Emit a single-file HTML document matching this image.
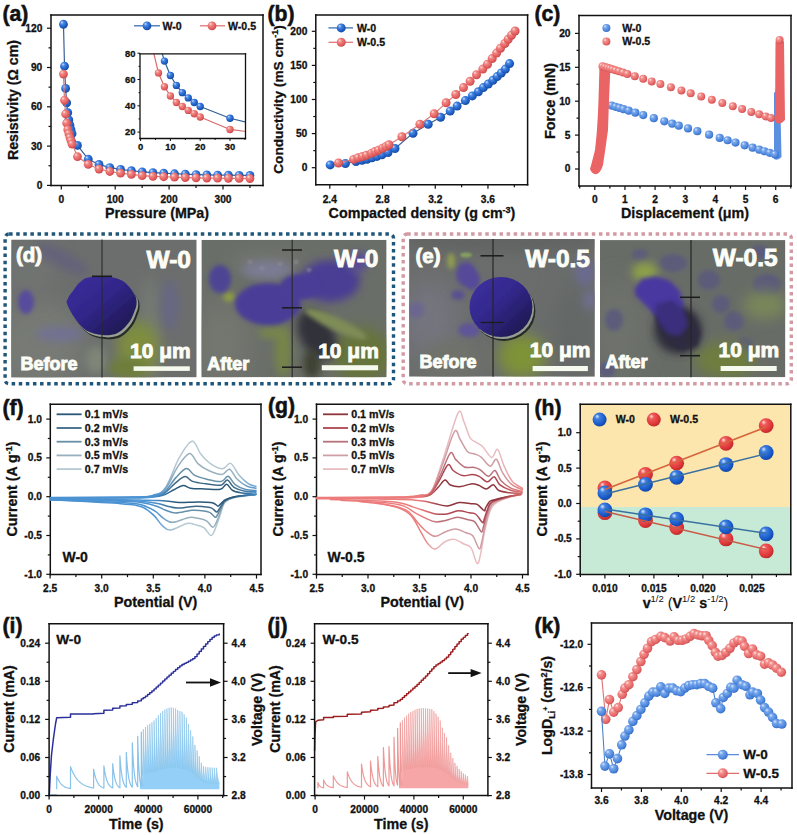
<!DOCTYPE html><html><head><meta charset="utf-8"><style>html,body{margin:0;padding:0;background:#fff;overflow:hidden;}svg{display:block;}</style></head><body><svg width="797" height="835" viewBox="0 0 797 835" font-family='"Liberation Sans", sans-serif'>
<defs>
<radialGradient id="gb" cx="0.4" cy="0.38" r="0.62" fx="0.32" fy="0.28">
 <stop offset="0" stop-color="#cfe4ff"/><stop offset="0.3" stop-color="#4a88e4"/><stop offset="0.75" stop-color="#1e5fc6"/><stop offset="1" stop-color="#184c9e"/></radialGradient>
<radialGradient id="gr" cx="0.4" cy="0.38" r="0.62" fx="0.32" fy="0.28">
 <stop offset="0" stop-color="#ffe2da"/><stop offset="0.3" stop-color="#f08a86"/><stop offset="0.75" stop-color="#e45f60"/><stop offset="1" stop-color="#c94a4c"/></radialGradient>
<radialGradient id="gbl" cx="0.4" cy="0.38" r="0.62" fx="0.32" fy="0.28">
 <stop offset="0" stop-color="#dcebff"/><stop offset="0.3" stop-color="#7aa8ea"/><stop offset="0.75" stop-color="#4d88df"/><stop offset="1" stop-color="#3a70c4"/></radialGradient>
<radialGradient id="grl" cx="0.4" cy="0.38" r="0.62" fx="0.32" fy="0.28">
 <stop offset="0" stop-color="#ffe6e0"/><stop offset="0.3" stop-color="#f29290"/><stop offset="0.75" stop-color="#e86a6a"/><stop offset="1" stop-color="#d05456"/></radialGradient>
</defs>
<rect width="797" height="835" fill="#fff"/>
<line x1="51.00" y1="14.25" x2="51.00" y2="186.25" stroke="#111" stroke-width="1.5" />
<line x1="263.00" y1="14.25" x2="263.00" y2="186.25" stroke="#111" stroke-width="1.5" />
<line x1="50.25" y1="15.00" x2="263.75" y2="15.00" stroke="#111" stroke-width="1.5" />
<line x1="50.25" y1="185.50" x2="263.75" y2="185.50" stroke="#111" stroke-width="1.5" />
<line x1="61.30" y1="185.50" x2="61.30" y2="189.50" stroke="#111" stroke-width="1.2" />
<line x1="115.20" y1="185.50" x2="115.20" y2="189.50" stroke="#111" stroke-width="1.2" />
<line x1="169.10" y1="185.50" x2="169.10" y2="189.50" stroke="#111" stroke-width="1.2" />
<line x1="223.00" y1="185.50" x2="223.00" y2="189.50" stroke="#111" stroke-width="1.2" />
<line x1="88.25" y1="185.50" x2="88.25" y2="188.00" stroke="#111" stroke-width="1.2" />
<line x1="142.15" y1="185.50" x2="142.15" y2="188.00" stroke="#111" stroke-width="1.2" />
<line x1="196.05" y1="185.50" x2="196.05" y2="188.00" stroke="#111" stroke-width="1.2" />
<line x1="249.95" y1="185.50" x2="249.95" y2="188.00" stroke="#111" stroke-width="1.2" />
<line x1="51.00" y1="185.40" x2="47.00" y2="185.40" stroke="#111" stroke-width="1.2" />
<line x1="51.00" y1="146.10" x2="47.00" y2="146.10" stroke="#111" stroke-width="1.2" />
<line x1="51.00" y1="106.80" x2="47.00" y2="106.80" stroke="#111" stroke-width="1.2" />
<line x1="51.00" y1="67.50" x2="47.00" y2="67.50" stroke="#111" stroke-width="1.2" />
<line x1="51.00" y1="28.20" x2="47.00" y2="28.20" stroke="#111" stroke-width="1.2" />
<line x1="51.00" y1="165.75" x2="48.50" y2="165.75" stroke="#111" stroke-width="1.2" />
<line x1="51.00" y1="126.45" x2="48.50" y2="126.45" stroke="#111" stroke-width="1.2" />
<line x1="51.00" y1="87.15" x2="48.50" y2="87.15" stroke="#111" stroke-width="1.2" />
<line x1="51.00" y1="47.85" x2="48.50" y2="47.85" stroke="#111" stroke-width="1.2" />
<text x="61.30" y="202.80" font-size="10.2" text-anchor="middle" font-weight="bold" fill="#111" stroke="#111" stroke-width="0.3">0</text>
<text x="115.20" y="202.80" font-size="10.2" text-anchor="middle" font-weight="bold" fill="#111" stroke="#111" stroke-width="0.3">100</text>
<text x="169.10" y="202.80" font-size="10.2" text-anchor="middle" font-weight="bold" fill="#111" stroke="#111" stroke-width="0.3">200</text>
<text x="223.00" y="202.80" font-size="10.2" text-anchor="middle" font-weight="bold" fill="#111" stroke="#111" stroke-width="0.3">300</text>
<text x="42.30" y="188.80" font-size="10.2" text-anchor="end" font-weight="bold" fill="#111" stroke="#111" stroke-width="0.3">0</text>
<text x="42.30" y="149.50" font-size="10.2" text-anchor="end" font-weight="bold" fill="#111" stroke="#111" stroke-width="0.3">30</text>
<text x="42.30" y="110.20" font-size="10.2" text-anchor="end" font-weight="bold" fill="#111" stroke="#111" stroke-width="0.3">60</text>
<text x="42.30" y="70.90" font-size="10.2" text-anchor="end" font-weight="bold" fill="#111" stroke="#111" stroke-width="0.3">90</text>
<text x="42.30" y="31.60" font-size="10.2" text-anchor="end" font-weight="bold" fill="#111" stroke="#111" stroke-width="0.3">120</text>
<text x="157.00" y="217.50" font-size="14.3" text-anchor="middle" font-weight="bold" fill="#111" stroke="#111" stroke-width="0.3">Pressure (MPa)</text>
<text x="17.50" y="100.00" font-size="14.2" text-anchor="middle" font-weight="bold" fill="#111" transform="rotate(-90 17.50 100.00)" stroke="#111" stroke-width="0.3">Resistivity (Ω cm)</text>
<text x="2.50" y="21.00" font-size="21.2" text-anchor="start" font-weight="bold" fill="#111" stroke="#111" stroke-width="0.55">(a)</text>
<polyline points="63.46,24.27 64.53,66.19 65.61,88.46 66.69,102.87 67.77,112.70 68.85,119.90 69.92,125.14 71.00,129.72 72.08,133.66 77.47,145.44 88.25,159.20 99.03,164.44 109.81,167.58 120.59,169.42 131.37,170.73 142.15,171.78 152.93,172.56 163.71,173.22 174.49,173.74 185.27,174.13 196.05,174.53 206.83,174.79 217.61,175.05 228.39,175.18 239.17,175.31 249.95,175.44" fill="none" stroke="#3d5f93" stroke-width="1.2" stroke-linejoin="round" />
<circle cx="63.46" cy="24.27" r="4.4" fill="url(#gb)"/>
<circle cx="64.53" cy="66.19" r="4.4" fill="url(#gb)"/>
<circle cx="65.61" cy="88.46" r="4.4" fill="url(#gb)"/>
<circle cx="66.69" cy="102.87" r="4.4" fill="url(#gb)"/>
<circle cx="67.77" cy="112.70" r="4.4" fill="url(#gb)"/>
<circle cx="68.85" cy="119.90" r="4.4" fill="url(#gb)"/>
<circle cx="69.92" cy="125.14" r="4.4" fill="url(#gb)"/>
<circle cx="71.00" cy="129.72" r="4.4" fill="url(#gb)"/>
<circle cx="72.08" cy="133.66" r="4.4" fill="url(#gb)"/>
<circle cx="77.47" cy="145.44" r="4.4" fill="url(#gb)"/>
<circle cx="88.25" cy="159.20" r="4.4" fill="url(#gb)"/>
<circle cx="99.03" cy="164.44" r="4.4" fill="url(#gb)"/>
<circle cx="109.81" cy="167.58" r="4.4" fill="url(#gb)"/>
<circle cx="120.59" cy="169.42" r="4.4" fill="url(#gb)"/>
<circle cx="131.37" cy="170.73" r="4.4" fill="url(#gb)"/>
<circle cx="142.15" cy="171.78" r="4.4" fill="url(#gb)"/>
<circle cx="152.93" cy="172.56" r="4.4" fill="url(#gb)"/>
<circle cx="163.71" cy="173.22" r="4.4" fill="url(#gb)"/>
<circle cx="174.49" cy="173.74" r="4.4" fill="url(#gb)"/>
<circle cx="185.27" cy="174.13" r="4.4" fill="url(#gb)"/>
<circle cx="196.05" cy="174.53" r="4.4" fill="url(#gb)"/>
<circle cx="206.83" cy="174.79" r="4.4" fill="url(#gb)"/>
<circle cx="217.61" cy="175.05" r="4.4" fill="url(#gb)"/>
<circle cx="228.39" cy="175.18" r="4.4" fill="url(#gb)"/>
<circle cx="239.17" cy="175.31" r="4.4" fill="url(#gb)"/>
<circle cx="249.95" cy="175.44" r="4.4" fill="url(#gb)"/>
<polyline points="63.46,74.05 64.53,100.25 65.61,114.01 66.69,123.18 67.77,129.72 68.85,133.66 69.92,137.59 71.00,140.86 72.08,144.13 77.47,156.58 88.25,164.44 99.03,169.03 109.81,171.51 120.59,173.22 131.37,174.40 142.15,175.71 152.93,176.36 163.71,176.75 174.49,177.15 185.27,177.54 196.05,177.80 206.83,178.06 217.61,178.19 228.39,178.33 239.17,178.46 249.95,178.59" fill="none" stroke="#d87878" stroke-width="1.2" stroke-linejoin="round" />
<circle cx="63.46" cy="74.05" r="4.4" fill="url(#gr)"/>
<circle cx="64.53" cy="100.25" r="4.4" fill="url(#gr)"/>
<circle cx="65.61" cy="114.01" r="4.4" fill="url(#gr)"/>
<circle cx="66.69" cy="123.18" r="4.4" fill="url(#gr)"/>
<circle cx="67.77" cy="129.72" r="4.4" fill="url(#gr)"/>
<circle cx="68.85" cy="133.66" r="4.4" fill="url(#gr)"/>
<circle cx="69.92" cy="137.59" r="4.4" fill="url(#gr)"/>
<circle cx="71.00" cy="140.86" r="4.4" fill="url(#gr)"/>
<circle cx="72.08" cy="144.13" r="4.4" fill="url(#gr)"/>
<circle cx="77.47" cy="156.58" r="4.4" fill="url(#gr)"/>
<circle cx="88.25" cy="164.44" r="4.4" fill="url(#gr)"/>
<circle cx="99.03" cy="169.03" r="4.4" fill="url(#gr)"/>
<circle cx="109.81" cy="171.51" r="4.4" fill="url(#gr)"/>
<circle cx="120.59" cy="173.22" r="4.4" fill="url(#gr)"/>
<circle cx="131.37" cy="174.40" r="4.4" fill="url(#gr)"/>
<circle cx="142.15" cy="175.71" r="4.4" fill="url(#gr)"/>
<circle cx="152.93" cy="176.36" r="4.4" fill="url(#gr)"/>
<circle cx="163.71" cy="176.75" r="4.4" fill="url(#gr)"/>
<circle cx="174.49" cy="177.15" r="4.4" fill="url(#gr)"/>
<circle cx="185.27" cy="177.54" r="4.4" fill="url(#gr)"/>
<circle cx="196.05" cy="177.80" r="4.4" fill="url(#gr)"/>
<circle cx="206.83" cy="178.06" r="4.4" fill="url(#gr)"/>
<circle cx="217.61" cy="178.19" r="4.4" fill="url(#gr)"/>
<circle cx="228.39" cy="178.33" r="4.4" fill="url(#gr)"/>
<circle cx="239.17" cy="178.46" r="4.4" fill="url(#gr)"/>
<circle cx="249.95" cy="178.59" r="4.4" fill="url(#gr)"/>
<line x1="134.00" y1="25.80" x2="160.00" y2="25.80" stroke="#3d6fb0" stroke-width="1.3" />
<circle cx="147.00" cy="25.80" r="4.4" fill="url(#gb)"/>
<text x="162.50" y="29.60" font-size="10.6" text-anchor="start" font-weight="bold" fill="#111" stroke="#111" stroke-width="0.3">W-0</text>
<line x1="200.00" y1="25.80" x2="225.00" y2="25.80" stroke="#e07878" stroke-width="1.3" />
<circle cx="212.00" cy="25.80" r="4.4" fill="url(#gr)"/>
<text x="228.00" y="29.60" font-size="10.6" text-anchor="start" font-weight="bold" fill="#111" stroke="#111" stroke-width="0.3">W-0.5</text>
<rect x="140" y="53.8" width="105.5" height="84.7" fill="#fff"/>
<clipPath id="cpi"><rect x="140" y="53.8" width="105.5" height="84.7"/></clipPath>
<g clip-path="url(#cpi)">
<polyline points="162.06,53.20 164.44,61.09 170.40,75.56 176.36,85.42 182.32,92.65 188.28,97.91 194.24,102.51 200.20,106.46 230.00,118.29 246.39,122.11" fill="none" stroke="#2f5f9a" stroke-width="1.2" stroke-linejoin="round" />
<polyline points="153.71,53.20 158.48,72.92 164.44,86.73 170.40,95.94 176.36,102.51 182.32,106.46 188.28,110.40 194.24,113.69 200.20,116.98 230.00,129.47 246.39,131.57" fill="none" stroke="#d86a6a" stroke-width="1.2" stroke-linejoin="round" />
<circle cx="164.44" cy="61.09" r="3.7" fill="url(#gb)"/>
<circle cx="170.40" cy="75.56" r="3.7" fill="url(#gb)"/>
<circle cx="176.36" cy="85.42" r="3.7" fill="url(#gb)"/>
<circle cx="182.32" cy="92.65" r="3.7" fill="url(#gb)"/>
<circle cx="188.28" cy="97.91" r="3.7" fill="url(#gb)"/>
<circle cx="194.24" cy="102.51" r="3.7" fill="url(#gb)"/>
<circle cx="200.20" cy="106.46" r="3.7" fill="url(#gb)"/>
<circle cx="230.00" cy="118.29" r="3.7" fill="url(#gb)"/>
<circle cx="158.48" cy="72.92" r="3.7" fill="url(#gr)"/>
<circle cx="164.44" cy="86.73" r="3.7" fill="url(#gr)"/>
<circle cx="170.40" cy="95.94" r="3.7" fill="url(#gr)"/>
<circle cx="176.36" cy="102.51" r="3.7" fill="url(#gr)"/>
<circle cx="182.32" cy="106.46" r="3.7" fill="url(#gr)"/>
<circle cx="188.28" cy="110.40" r="3.7" fill="url(#gr)"/>
<circle cx="194.24" cy="113.69" r="3.7" fill="url(#gr)"/>
<circle cx="200.20" cy="116.98" r="3.7" fill="url(#gr)"/>
<circle cx="230.00" cy="129.47" r="3.7" fill="url(#gr)"/>
</g>
<line x1="140.00" y1="53.15" x2="140.00" y2="139.15" stroke="#111" stroke-width="1.3" />
<line x1="245.50" y1="53.15" x2="245.50" y2="139.15" stroke="#111" stroke-width="1.3" />
<line x1="139.35" y1="53.80" x2="246.15" y2="53.80" stroke="#111" stroke-width="1.3" />
<line x1="139.35" y1="138.50" x2="246.15" y2="138.50" stroke="#111" stroke-width="1.3" />
<line x1="140.60" y1="138.50" x2="140.60" y2="141.00" stroke="#111" stroke-width="1" />
<line x1="170.40" y1="138.50" x2="170.40" y2="141.00" stroke="#111" stroke-width="1" />
<line x1="200.20" y1="138.50" x2="200.20" y2="141.00" stroke="#111" stroke-width="1" />
<line x1="230.00" y1="138.50" x2="230.00" y2="141.00" stroke="#111" stroke-width="1" />
<line x1="155.50" y1="138.50" x2="155.50" y2="140.00" stroke="#111" stroke-width="1" />
<line x1="185.30" y1="138.50" x2="185.30" y2="140.00" stroke="#111" stroke-width="1" />
<line x1="215.10" y1="138.50" x2="215.10" y2="140.00" stroke="#111" stroke-width="1" />
<line x1="244.90" y1="138.50" x2="244.90" y2="140.00" stroke="#111" stroke-width="1" />
<line x1="140.00" y1="132.10" x2="137.50" y2="132.10" stroke="#111" stroke-width="1" />
<line x1="140.00" y1="105.80" x2="137.50" y2="105.80" stroke="#111" stroke-width="1" />
<line x1="140.00" y1="79.50" x2="137.50" y2="79.50" stroke="#111" stroke-width="1" />
<line x1="140.00" y1="53.20" x2="137.50" y2="53.20" stroke="#111" stroke-width="1" />
<line x1="140.00" y1="118.95" x2="138.50" y2="118.95" stroke="#111" stroke-width="1" />
<line x1="140.00" y1="92.65" x2="138.50" y2="92.65" stroke="#111" stroke-width="1" />
<line x1="140.00" y1="66.35" x2="138.50" y2="66.35" stroke="#111" stroke-width="1" />
<text x="140.60" y="149.50" font-size="9.4" text-anchor="middle" font-weight="bold" fill="#111" stroke="#111" stroke-width="0.3">0</text>
<text x="170.40" y="149.50" font-size="9.4" text-anchor="middle" font-weight="bold" fill="#111" stroke="#111" stroke-width="0.3">10</text>
<text x="200.20" y="149.50" font-size="9.4" text-anchor="middle" font-weight="bold" fill="#111" stroke="#111" stroke-width="0.3">20</text>
<text x="230.00" y="149.50" font-size="9.4" text-anchor="middle" font-weight="bold" fill="#111" stroke="#111" stroke-width="0.3">30</text>
<text x="135.50" y="135.40" font-size="9.4" text-anchor="end" font-weight="bold" fill="#111" stroke="#111" stroke-width="0.3">20</text>
<text x="135.50" y="109.10" font-size="9.4" text-anchor="end" font-weight="bold" fill="#111" stroke="#111" stroke-width="0.3">40</text>
<text x="135.50" y="82.80" font-size="9.4" text-anchor="end" font-weight="bold" fill="#111" stroke="#111" stroke-width="0.3">60</text>
<text x="135.50" y="56.50" font-size="9.4" text-anchor="end" font-weight="bold" fill="#111" stroke="#111" stroke-width="0.3">80</text>
<line x1="315.80" y1="14.15" x2="315.80" y2="185.55" stroke="#111" stroke-width="1.5" />
<line x1="527.60" y1="14.15" x2="527.60" y2="185.55" stroke="#111" stroke-width="1.5" />
<line x1="315.05" y1="14.90" x2="528.35" y2="14.90" stroke="#111" stroke-width="1.5" />
<line x1="315.05" y1="184.80" x2="528.35" y2="184.80" stroke="#111" stroke-width="1.5" />
<line x1="329.80" y1="184.80" x2="329.80" y2="188.80" stroke="#111" stroke-width="1.2" />
<line x1="382.52" y1="184.80" x2="382.52" y2="188.80" stroke="#111" stroke-width="1.2" />
<line x1="435.24" y1="184.80" x2="435.24" y2="188.80" stroke="#111" stroke-width="1.2" />
<line x1="487.96" y1="184.80" x2="487.96" y2="188.80" stroke="#111" stroke-width="1.2" />
<line x1="356.16" y1="184.80" x2="356.16" y2="187.30" stroke="#111" stroke-width="1.2" />
<line x1="408.88" y1="184.80" x2="408.88" y2="187.30" stroke="#111" stroke-width="1.2" />
<line x1="461.60" y1="184.80" x2="461.60" y2="187.30" stroke="#111" stroke-width="1.2" />
<line x1="514.32" y1="184.80" x2="514.32" y2="187.30" stroke="#111" stroke-width="1.2" />
<line x1="315.80" y1="167.70" x2="311.80" y2="167.70" stroke="#111" stroke-width="1.2" />
<line x1="315.80" y1="133.60" x2="311.80" y2="133.60" stroke="#111" stroke-width="1.2" />
<line x1="315.80" y1="99.50" x2="311.80" y2="99.50" stroke="#111" stroke-width="1.2" />
<line x1="315.80" y1="65.40" x2="311.80" y2="65.40" stroke="#111" stroke-width="1.2" />
<line x1="315.80" y1="31.30" x2="311.80" y2="31.30" stroke="#111" stroke-width="1.2" />
<line x1="315.80" y1="150.65" x2="313.30" y2="150.65" stroke="#111" stroke-width="1.2" />
<line x1="315.80" y1="116.55" x2="313.30" y2="116.55" stroke="#111" stroke-width="1.2" />
<line x1="315.80" y1="82.45" x2="313.30" y2="82.45" stroke="#111" stroke-width="1.2" />
<line x1="315.80" y1="48.35" x2="313.30" y2="48.35" stroke="#111" stroke-width="1.2" />
<text x="329.80" y="202.50" font-size="10.2" text-anchor="middle" font-weight="bold" fill="#111" stroke="#111" stroke-width="0.3">2.4</text>
<text x="382.52" y="202.50" font-size="10.2" text-anchor="middle" font-weight="bold" fill="#111" stroke="#111" stroke-width="0.3">2.8</text>
<text x="435.24" y="202.50" font-size="10.2" text-anchor="middle" font-weight="bold" fill="#111" stroke="#111" stroke-width="0.3">3.2</text>
<text x="487.96" y="202.50" font-size="10.2" text-anchor="middle" font-weight="bold" fill="#111" stroke="#111" stroke-width="0.3">3.6</text>
<text x="307.30" y="171.10" font-size="10.2" text-anchor="end" font-weight="bold" fill="#111" stroke="#111" stroke-width="0.3">0</text>
<text x="307.30" y="137.00" font-size="10.2" text-anchor="end" font-weight="bold" fill="#111" stroke="#111" stroke-width="0.3">50</text>
<text x="307.30" y="102.90" font-size="10.2" text-anchor="end" font-weight="bold" fill="#111" stroke="#111" stroke-width="0.3">100</text>
<text x="307.30" y="68.80" font-size="10.2" text-anchor="end" font-weight="bold" fill="#111" stroke="#111" stroke-width="0.3">150</text>
<text x="307.30" y="34.70" font-size="10.2" text-anchor="end" font-weight="bold" fill="#111" stroke="#111" stroke-width="0.3">200</text>
<text x="422.00" y="217.50" font-size="14.3" text-anchor="middle" font-weight="bold" fill="#111" stroke="#111" stroke-width="0.3">Compacted density (g cm<tspan dy="-5" font-size="9">-3</tspan><tspan dy="5">)</tspan></text>
<text x="282.50" y="99.50" font-size="13.7" text-anchor="middle" font-weight="bold" fill="#111" transform="rotate(-90 282.50 99.50)" stroke="#111" stroke-width="0.3">Conductivity (mS cm<tspan dy="-5" font-size="9">-1</tspan><tspan dy="5">)</tspan></text>
<text x="267.50" y="21.00" font-size="21.2" text-anchor="start" font-weight="bold" fill="#111" stroke="#111" stroke-width="0.55">(b)</text>
<polyline points="330.20,164.90 345.40,163.50 356.00,161.50 362.00,160.30 367.00,159.20 372.00,157.80 377.00,156.40 382.00,154.80 388.00,152.50 395.00,148.50 413.00,133.20 428.20,124.30 440.60,117.20 450.20,111.10 457.10,106.10 465.40,100.60 472.30,95.90 478.40,91.80 483.40,87.60 488.30,84.00 493.00,80.20 497.20,76.60 501.30,73.00 505.40,69.10 509.60,63.60" fill="none" stroke="#3d5f93" stroke-width="1.1" stroke-linejoin="round" />
<circle cx="330.20" cy="164.90" r="4.5" fill="url(#gb)"/>
<circle cx="345.40" cy="163.50" r="4.5" fill="url(#gb)"/>
<circle cx="356.00" cy="161.50" r="4.5" fill="url(#gb)"/>
<circle cx="362.00" cy="160.30" r="4.5" fill="url(#gb)"/>
<circle cx="367.00" cy="159.20" r="4.5" fill="url(#gb)"/>
<circle cx="372.00" cy="157.80" r="4.5" fill="url(#gb)"/>
<circle cx="377.00" cy="156.40" r="4.5" fill="url(#gb)"/>
<circle cx="382.00" cy="154.80" r="4.5" fill="url(#gb)"/>
<circle cx="388.00" cy="152.50" r="4.5" fill="url(#gb)"/>
<circle cx="395.00" cy="148.50" r="4.5" fill="url(#gb)"/>
<circle cx="413.00" cy="133.20" r="4.5" fill="url(#gb)"/>
<circle cx="428.20" cy="124.30" r="4.5" fill="url(#gb)"/>
<circle cx="440.60" cy="117.20" r="4.5" fill="url(#gb)"/>
<circle cx="450.20" cy="111.10" r="4.5" fill="url(#gb)"/>
<circle cx="457.10" cy="106.10" r="4.5" fill="url(#gb)"/>
<circle cx="465.40" cy="100.60" r="4.5" fill="url(#gb)"/>
<circle cx="472.30" cy="95.90" r="4.5" fill="url(#gb)"/>
<circle cx="478.40" cy="91.80" r="4.5" fill="url(#gb)"/>
<circle cx="483.40" cy="87.60" r="4.5" fill="url(#gb)"/>
<circle cx="488.30" cy="84.00" r="4.5" fill="url(#gb)"/>
<circle cx="493.00" cy="80.20" r="4.5" fill="url(#gb)"/>
<circle cx="497.20" cy="76.60" r="4.5" fill="url(#gb)"/>
<circle cx="501.30" cy="73.00" r="4.5" fill="url(#gb)"/>
<circle cx="505.40" cy="69.10" r="4.5" fill="url(#gb)"/>
<circle cx="509.60" cy="63.60" r="4.5" fill="url(#gb)"/>
<polyline points="338.50,163.00 353.60,159.40 358.00,157.80 362.50,156.60 366.50,155.20 371.60,153.20 375.00,151.60 378.50,150.20 382.60,148.30 386.00,146.60 389.00,144.80 401.90,136.80 419.90,124.30 434.20,113.80 446.10,102.80 455.80,94.50 463.50,87.60 470.10,81.30 476.50,74.70 482.80,69.10 487.50,64.20 492.20,58.60 496.60,53.10 500.50,48.20 504.90,43.50 508.20,39.30 511.50,35.20 515.10,31.00" fill="none" stroke="#d87878" stroke-width="1.1" stroke-linejoin="round" />
<circle cx="338.50" cy="163.00" r="4.5" fill="url(#gr)"/>
<circle cx="353.60" cy="159.40" r="4.5" fill="url(#gr)"/>
<circle cx="358.00" cy="157.80" r="4.5" fill="url(#gr)"/>
<circle cx="362.50" cy="156.60" r="4.5" fill="url(#gr)"/>
<circle cx="366.50" cy="155.20" r="4.5" fill="url(#gr)"/>
<circle cx="371.60" cy="153.20" r="4.5" fill="url(#gr)"/>
<circle cx="375.00" cy="151.60" r="4.5" fill="url(#gr)"/>
<circle cx="378.50" cy="150.20" r="4.5" fill="url(#gr)"/>
<circle cx="382.60" cy="148.30" r="4.5" fill="url(#gr)"/>
<circle cx="386.00" cy="146.60" r="4.5" fill="url(#gr)"/>
<circle cx="389.00" cy="144.80" r="4.5" fill="url(#gr)"/>
<circle cx="401.90" cy="136.80" r="4.5" fill="url(#gr)"/>
<circle cx="419.90" cy="124.30" r="4.5" fill="url(#gr)"/>
<circle cx="434.20" cy="113.80" r="4.5" fill="url(#gr)"/>
<circle cx="446.10" cy="102.80" r="4.5" fill="url(#gr)"/>
<circle cx="455.80" cy="94.50" r="4.5" fill="url(#gr)"/>
<circle cx="463.50" cy="87.60" r="4.5" fill="url(#gr)"/>
<circle cx="470.10" cy="81.30" r="4.5" fill="url(#gr)"/>
<circle cx="476.50" cy="74.70" r="4.5" fill="url(#gr)"/>
<circle cx="482.80" cy="69.10" r="4.5" fill="url(#gr)"/>
<circle cx="487.50" cy="64.20" r="4.5" fill="url(#gr)"/>
<circle cx="492.20" cy="58.60" r="4.5" fill="url(#gr)"/>
<circle cx="496.60" cy="53.10" r="4.5" fill="url(#gr)"/>
<circle cx="500.50" cy="48.20" r="4.5" fill="url(#gr)"/>
<circle cx="504.90" cy="43.50" r="4.5" fill="url(#gr)"/>
<circle cx="508.20" cy="39.30" r="4.5" fill="url(#gr)"/>
<circle cx="511.50" cy="35.20" r="4.5" fill="url(#gr)"/>
<circle cx="515.10" cy="31.00" r="4.5" fill="url(#gr)"/>
<line x1="328.50" y1="27.90" x2="353.00" y2="27.90" stroke="#3d6fb0" stroke-width="1.3" />
<circle cx="341.20" cy="27.90" r="4.5" fill="url(#gb)"/>
<text x="357.00" y="31.70" font-size="10.6" text-anchor="start" font-weight="bold" fill="#111" stroke="#111" stroke-width="0.3">W-0</text>
<line x1="328.50" y1="42.30" x2="353.00" y2="42.30" stroke="#e07878" stroke-width="1.3" />
<circle cx="341.20" cy="42.30" r="4.5" fill="url(#gr)"/>
<text x="357.00" y="46.10" font-size="10.6" text-anchor="start" font-weight="bold" fill="#111" stroke="#111" stroke-width="0.3">W-0.5</text>
<line x1="579.00" y1="14.75" x2="579.00" y2="186.75" stroke="#111" stroke-width="1.5" />
<line x1="791.00" y1="14.75" x2="791.00" y2="186.75" stroke="#111" stroke-width="1.5" />
<line x1="578.25" y1="15.50" x2="791.75" y2="15.50" stroke="#111" stroke-width="1.5" />
<line x1="578.25" y1="186.00" x2="791.75" y2="186.00" stroke="#111" stroke-width="1.5" />
<line x1="594.80" y1="186.00" x2="594.80" y2="190.00" stroke="#111" stroke-width="1.2" />
<line x1="624.95" y1="186.00" x2="624.95" y2="190.00" stroke="#111" stroke-width="1.2" />
<line x1="655.10" y1="186.00" x2="655.10" y2="190.00" stroke="#111" stroke-width="1.2" />
<line x1="685.25" y1="186.00" x2="685.25" y2="190.00" stroke="#111" stroke-width="1.2" />
<line x1="715.40" y1="186.00" x2="715.40" y2="190.00" stroke="#111" stroke-width="1.2" />
<line x1="745.55" y1="186.00" x2="745.55" y2="190.00" stroke="#111" stroke-width="1.2" />
<line x1="775.70" y1="186.00" x2="775.70" y2="190.00" stroke="#111" stroke-width="1.2" />
<line x1="579.72" y1="186.00" x2="579.72" y2="188.50" stroke="#111" stroke-width="1.2" />
<line x1="609.88" y1="186.00" x2="609.88" y2="188.50" stroke="#111" stroke-width="1.2" />
<line x1="640.02" y1="186.00" x2="640.02" y2="188.50" stroke="#111" stroke-width="1.2" />
<line x1="670.17" y1="186.00" x2="670.17" y2="188.50" stroke="#111" stroke-width="1.2" />
<line x1="700.32" y1="186.00" x2="700.32" y2="188.50" stroke="#111" stroke-width="1.2" />
<line x1="730.47" y1="186.00" x2="730.47" y2="188.50" stroke="#111" stroke-width="1.2" />
<line x1="760.62" y1="186.00" x2="760.62" y2="188.50" stroke="#111" stroke-width="1.2" />
<line x1="790.77" y1="186.00" x2="790.77" y2="188.50" stroke="#111" stroke-width="1.2" />
<line x1="579.00" y1="169.00" x2="575.00" y2="169.00" stroke="#111" stroke-width="1.2" />
<line x1="579.00" y1="135.10" x2="575.00" y2="135.10" stroke="#111" stroke-width="1.2" />
<line x1="579.00" y1="101.20" x2="575.00" y2="101.20" stroke="#111" stroke-width="1.2" />
<line x1="579.00" y1="67.30" x2="575.00" y2="67.30" stroke="#111" stroke-width="1.2" />
<line x1="579.00" y1="33.40" x2="575.00" y2="33.40" stroke="#111" stroke-width="1.2" />
<line x1="579.00" y1="152.05" x2="576.50" y2="152.05" stroke="#111" stroke-width="1.2" />
<line x1="579.00" y1="118.15" x2="576.50" y2="118.15" stroke="#111" stroke-width="1.2" />
<line x1="579.00" y1="84.25" x2="576.50" y2="84.25" stroke="#111" stroke-width="1.2" />
<line x1="579.00" y1="50.35" x2="576.50" y2="50.35" stroke="#111" stroke-width="1.2" />
<text x="594.80" y="202.80" font-size="10.2" text-anchor="middle" font-weight="bold" fill="#111" stroke="#111" stroke-width="0.3">0</text>
<text x="624.95" y="202.80" font-size="10.2" text-anchor="middle" font-weight="bold" fill="#111" stroke="#111" stroke-width="0.3">1</text>
<text x="655.10" y="202.80" font-size="10.2" text-anchor="middle" font-weight="bold" fill="#111" stroke="#111" stroke-width="0.3">2</text>
<text x="685.25" y="202.80" font-size="10.2" text-anchor="middle" font-weight="bold" fill="#111" stroke="#111" stroke-width="0.3">3</text>
<text x="715.40" y="202.80" font-size="10.2" text-anchor="middle" font-weight="bold" fill="#111" stroke="#111" stroke-width="0.3">4</text>
<text x="745.55" y="202.80" font-size="10.2" text-anchor="middle" font-weight="bold" fill="#111" stroke="#111" stroke-width="0.3">5</text>
<text x="775.70" y="202.80" font-size="10.2" text-anchor="middle" font-weight="bold" fill="#111" stroke="#111" stroke-width="0.3">6</text>
<text x="570.50" y="172.40" font-size="10.2" text-anchor="end" font-weight="bold" fill="#111" stroke="#111" stroke-width="0.3">0</text>
<text x="570.50" y="138.50" font-size="10.2" text-anchor="end" font-weight="bold" fill="#111" stroke="#111" stroke-width="0.3">5</text>
<text x="570.50" y="104.60" font-size="10.2" text-anchor="end" font-weight="bold" fill="#111" stroke="#111" stroke-width="0.3">10</text>
<text x="570.50" y="70.70" font-size="10.2" text-anchor="end" font-weight="bold" fill="#111" stroke="#111" stroke-width="0.3">15</text>
<text x="570.50" y="36.80" font-size="10.2" text-anchor="end" font-weight="bold" fill="#111" stroke="#111" stroke-width="0.3">20</text>
<text x="685.00" y="217.50" font-size="14.3" text-anchor="middle" font-weight="bold" fill="#111" stroke="#111" stroke-width="0.3">Displacement (μm)</text>
<text x="555.00" y="101.00" font-size="14.4" text-anchor="middle" font-weight="bold" fill="#111" transform="rotate(-90 555.00 101.00)" stroke="#111" stroke-width="0.3">Force (mN)</text>
<text x="534.50" y="21.00" font-size="21.2" text-anchor="start" font-weight="bold" fill="#111" stroke="#111" stroke-width="0.55">(c)</text>
<path d="M774,159 L774,93 Q777,88 780,93 L781.5,157 Q778,161 774,159 Z" fill="#5b8fe0"/>
<circle cx="611.60" cy="105.60" r="4.1" fill="url(#gbl)"/>
<circle cx="615.60" cy="106.79" r="4.1" fill="url(#gbl)"/>
<circle cx="619.50" cy="107.96" r="4.1" fill="url(#gbl)"/>
<circle cx="623.50" cy="109.15" r="4.1" fill="url(#gbl)"/>
<circle cx="628.70" cy="110.71" r="4.1" fill="url(#gbl)"/>
<circle cx="635.30" cy="112.68" r="4.1" fill="url(#gbl)"/>
<circle cx="643.20" cy="115.04" r="4.1" fill="url(#gbl)"/>
<circle cx="653.80" cy="118.20" r="4.1" fill="url(#gbl)"/>
<circle cx="664.30" cy="121.34" r="4.1" fill="url(#gbl)"/>
<circle cx="672.20" cy="123.70" r="4.1" fill="url(#gbl)"/>
<circle cx="678.80" cy="125.67" r="4.1" fill="url(#gbl)"/>
<circle cx="688.00" cy="128.42" r="4.1" fill="url(#gbl)"/>
<circle cx="697.30" cy="131.19" r="4.1" fill="url(#gbl)"/>
<circle cx="709.10" cy="134.72" r="4.1" fill="url(#gbl)"/>
<circle cx="719.70" cy="137.88" r="4.1" fill="url(#gbl)"/>
<circle cx="727.60" cy="140.24" r="4.1" fill="url(#gbl)"/>
<circle cx="735.50" cy="142.60" r="4.1" fill="url(#gbl)"/>
<circle cx="744.70" cy="145.35" r="4.1" fill="url(#gbl)"/>
<circle cx="752.60" cy="147.71" r="4.1" fill="url(#gbl)"/>
<circle cx="759.20" cy="149.68" r="4.1" fill="url(#gbl)"/>
<circle cx="764.50" cy="151.26" r="4.1" fill="url(#gbl)"/>
<circle cx="769.70" cy="152.82" r="4.1" fill="url(#gbl)"/>
<circle cx="775.00" cy="154.40" r="4.1" fill="url(#gbl)"/>
<path d="M599.5,66 L598.5,100 Q597.5,130 595,150 Q592,162 590,169 Q592,175 597,174 Q601,172 603,165 Q605,152 608,130 L609,100 L610.5,66 Z" fill="#ea6466"/>
<circle cx="602.50" cy="66.30" r="4.0" fill="url(#grl)"/>
<circle cx="605.00" cy="67.07" r="4.0" fill="url(#grl)"/>
<circle cx="607.50" cy="67.83" r="4.0" fill="url(#grl)"/>
<circle cx="610.00" cy="68.60" r="4.0" fill="url(#grl)"/>
<circle cx="612.50" cy="69.37" r="4.0" fill="url(#grl)"/>
<circle cx="615.50" cy="70.29" r="4.0" fill="url(#grl)"/>
<circle cx="619.00" cy="71.36" r="4.0" fill="url(#grl)"/>
<circle cx="623.00" cy="72.59" r="4.0" fill="url(#grl)"/>
<circle cx="627.40" cy="73.94" r="4.0" fill="url(#grl)"/>
<circle cx="634.80" cy="76.21" r="4.0" fill="url(#grl)"/>
<circle cx="643.20" cy="78.78" r="4.0" fill="url(#grl)"/>
<circle cx="651.70" cy="81.39" r="4.0" fill="url(#grl)"/>
<circle cx="660.40" cy="84.06" r="4.0" fill="url(#grl)"/>
<circle cx="670.90" cy="87.28" r="4.0" fill="url(#grl)"/>
<circle cx="681.40" cy="90.50" r="4.0" fill="url(#grl)"/>
<circle cx="690.70" cy="93.35" r="4.0" fill="url(#grl)"/>
<circle cx="701.20" cy="96.57" r="4.0" fill="url(#grl)"/>
<circle cx="711.80" cy="99.82" r="4.0" fill="url(#grl)"/>
<circle cx="722.30" cy="103.04" r="4.0" fill="url(#grl)"/>
<circle cx="732.80" cy="106.26" r="4.0" fill="url(#grl)"/>
<circle cx="742.10" cy="109.11" r="4.0" fill="url(#grl)"/>
<circle cx="751.30" cy="111.93" r="4.0" fill="url(#grl)"/>
<circle cx="759.20" cy="114.35" r="4.0" fill="url(#grl)"/>
<circle cx="765.80" cy="116.38" r="4.0" fill="url(#grl)"/>
<circle cx="771.00" cy="117.97" r="4.0" fill="url(#grl)"/>
<path d="M775,122 L775.5,42 Q779.5,36 784,42 L785,120 Q780,126 775,122 Z" fill="#ea6466"/>
<circle cx="779.60" cy="40.00" r="4" fill="url(#grl)"/>
<circle cx="606.40" cy="27.90" r="4" fill="url(#gbl)"/>
<text x="622.20" y="31.70" font-size="10.6" text-anchor="start" font-weight="bold" fill="#111" stroke="#111" stroke-width="0.3">W-0</text>
<circle cx="606.40" cy="41.60" r="4" fill="url(#grl)"/>
<text x="622.20" y="45.40" font-size="10.6" text-anchor="start" font-weight="bold" fill="#111" stroke="#111" stroke-width="0.3">W-0.5</text>
<defs>
<filter id="b1" x="-50%" y="-50%" width="200%" height="200%"><feGaussianBlur stdDeviation="1"/></filter>
<filter id="b2" x="-50%" y="-50%" width="200%" height="200%"><feGaussianBlur stdDeviation="2"/></filter>
<filter id="b4" x="-50%" y="-50%" width="200%" height="200%"><feGaussianBlur stdDeviation="4"/></filter>
<filter id="b7" x="-50%" y="-50%" width="200%" height="200%"><feGaussianBlur stdDeviation="7"/></filter>
<filter id="b12" x="-50%" y="-50%" width="200%" height="200%"><feGaussianBlur stdDeviation="12"/></filter>
<radialGradient id="blob" cx="0.42" cy="0.38" r="0.7"><stop offset="0" stop-color="#40309a"/><stop offset="0.6" stop-color="#35278a"/><stop offset="1" stop-color="#241a5a"/></radialGradient>
<clipPath id="ci1"><rect x="11.2" y="239.6" width="185.5" height="137.8"/></clipPath>
<clipPath id="ci2"><rect x="201.4" y="239.8" width="185.2" height="137.5"/></clipPath>
<clipPath id="ci3"><rect x="409.1" y="239.1" width="185.7" height="137.6"/></clipPath>
<clipPath id="ci4"><rect x="600" y="240.1" width="185.4" height="137.2"/></clipPath>
</defs>
<rect x="5.1" y="234" width="388.4" height="149.8" rx="4" fill="none" stroke="#1f5679" stroke-width="3.4" stroke-dasharray="3.5 3.6"/>
<rect x="403.2" y="234" width="388.1" height="149.8" rx="4" fill="none" stroke="#d29aa3" stroke-width="3.4" stroke-dasharray="3.5 3.6"/>
<filter id="b06" x="-20%" y="-20%" width="140%" height="140%"><feGaussianBlur stdDeviation="0.7"/></filter>
<g clip-path="url(#ci1)">
<rect x="11.2" y="239.6" width="185.5" height="137.8" fill="#6b6e6c"/>
<ellipse cx="40" cy="345" rx="45" ry="45" fill="#777a75" opacity="1" filter="url(#b12)"/>
<ellipse cx="30" cy="270" rx="25" ry="25" fill="#717472" opacity="1" filter="url(#b12)"/>
<ellipse cx="150" cy="330" rx="8" ry="55" fill="#787d76" opacity="1" filter="url(#b7)"/>
<ellipse cx="62" cy="259" rx="30" ry="8" fill="#64627a" opacity="1" filter="url(#b4)" transform="rotate(28 62 259)"/>
<ellipse cx="170" cy="305" rx="9" ry="26" fill="#676882" opacity="1" filter="url(#b4)"/>
<ellipse cx="26" cy="302" rx="8" ry="12" fill="#574c9c" opacity="1" filter="url(#b2)"/>
<ellipse cx="60" cy="334" rx="24" ry="7" fill="#726f98" opacity="0.9" filter="url(#b4)"/>
<ellipse cx="138" cy="348" rx="21" ry="27" fill="#7e8e3c" opacity="1" filter="url(#b7)"/>
<ellipse cx="128" cy="368" rx="20" ry="10" fill="#6e7e3a" opacity="1" filter="url(#b4)"/>
<ellipse cx="96" cy="360" rx="10" ry="14" fill="#7f8678" opacity="1" filter="url(#b4)"/>
<path d="M84.5,278.5 C95,275.5 110,275.5 119.7,279.6 C126,282 131,288 135.7,296.7 C137.5,302 136.5,307 134.7,310.5 C133,316 131,320 128.3,323.3 C124,329 120,332 115.5,334 C110,335.5 106,335.5 102.7,335 C96,334.5 91,333 86.7,330.8 C82,327.5 79,324 76,320 C71,313 68,307 66.4,302 C68,298 70,294 72.8,291.3 C75,288 77,285 79.2,282.8 Z" fill="#262b26" transform="translate(3.0 3.9)" filter="url(#b06)"/>
<path d="M84.5,278.5 C95,275.5 110,275.5 119.7,279.6 C126,282 131,288 135.7,296.7 C137.5,302 136.5,307 134.7,310.5 C133,316 131,320 128.3,323.3 C124,329 120,332 115.5,334 C110,335.5 106,335.5 102.7,335 C96,334.5 91,333 86.7,330.8 C82,327.5 79,324 76,320 C71,313 68,307 66.4,302 C68,298 70,294 72.8,291.3 C75,288 77,285 79.2,282.8 Z" fill="#979f92" transform="translate(1.6 2.1)" filter="url(#b06)"/>
<linearGradient id="bl1" x1="0" y1="0" x2="1" y2="1"><stop offset="0" stop-color="#3e309e"/><stop offset="0.45" stop-color="#31268a"/><stop offset="1" stop-color="#1a1440"/></linearGradient>
<path d="M84.5,278.5 C95,275.5 110,275.5 119.7,279.6 C126,282 131,288 135.7,296.7 C137.5,302 136.5,307 134.7,310.5 C133,316 131,320 128.3,323.3 C124,329 120,332 115.5,334 C110,335.5 106,335.5 102.7,335 C96,334.5 91,333 86.7,330.8 C82,327.5 79,324 76,320 C71,313 68,307 66.4,302 C68,298 70,294 72.8,291.3 C75,288 77,285 79.2,282.8 Z" fill="url(#bl1)" opacity="1" filter="url(#b06)" />
</g>
<line x1="102.00" y1="239.60" x2="102.00" y2="377.40" stroke="#2a2a2a" stroke-width="1.1" />
<line x1="92.00" y1="276.30" x2="112.00" y2="276.30" stroke="#1c1c1c" stroke-width="1.6" />
<text x="16.00" y="261.70" font-size="20.5" text-anchor="start" font-weight="bold" fill="#fbfdf6" stroke="#fbfdf6" stroke-width="0.9">(d)</text>
<text x="191.00" y="267.80" font-size="24.5" text-anchor="end" font-weight="bold" fill="#fbfdf6" stroke="#fbfdf6" stroke-width="0.9">W-0</text>
<text x="20.50" y="370.30" font-size="18" text-anchor="start" font-weight="bold" fill="#fbfdf6" stroke="#fbfdf6" stroke-width="0.9">Before</text>
<text x="190.80" y="357.60" font-size="21" text-anchor="end" font-weight="bold" fill="#fbfdf6" stroke="#fbfdf6" stroke-width="0.9">10 μm</text>
<rect x="133.6" y="366.3" width="56.20000000000002" height="4.599999999999966" fill="#f6f9ee"/>
<g clip-path="url(#ci2)">
<rect x="201.4" y="239.8" width="185.2" height="137.5" fill="#6a6e68"/>
<ellipse cx="222" cy="345" rx="28" ry="45" fill="#737770" opacity="1" filter="url(#b12)"/>
<ellipse cx="265" cy="262" rx="35" ry="12" fill="#717470" opacity="1" filter="url(#b7)"/>
<ellipse cx="362" cy="355" rx="30" ry="28" fill="#66743a" opacity="1" filter="url(#b7)"/>
<ellipse cx="283" cy="352" rx="8" ry="25" fill="#768646" opacity="1" filter="url(#b4)"/>
<ellipse cx="272" cy="333" rx="14" ry="5" fill="#7a8a46" opacity="1" filter="url(#b4)"/>
<ellipse cx="229" cy="297" rx="6" ry="5" fill="#8a9a46" opacity="1" filter="url(#b2)"/>
<ellipse cx="220" cy="279" rx="11" ry="14" fill="#4e4594" opacity="1" filter="url(#b2)"/>
<ellipse cx="317" cy="335" rx="17" ry="27" fill="#33313b" opacity="1" filter="url(#b4)" transform="rotate(-30 317 335)"/>
<ellipse cx="312" cy="364" rx="9" ry="15" fill="#3c4032" opacity="1" filter="url(#b4)"/>
<ellipse cx="336" cy="324" rx="34" ry="6.5" fill="#7e8c56" opacity="1" filter="url(#b2)" transform="rotate(25 336 324)"/>
<ellipse cx="267" cy="270" rx="25" ry="9" fill="#7c7c94" opacity="1" filter="url(#b4)"/>
<ellipse cx="268" cy="304" rx="33" ry="21" fill="#483c98" opacity="1" filter="url(#b2)"/>
<ellipse cx="330" cy="281" rx="30" ry="21" fill="#4a3e94" opacity="1" filter="url(#b4)"/>
<ellipse cx="300" cy="287" rx="20" ry="13" fill="#4a3c98" opacity="1" filter="url(#b2)"/>
<ellipse cx="358" cy="262" rx="10" ry="10" fill="#56499a" opacity="1" filter="url(#b4)"/>
<ellipse cx="250" cy="262" rx="2.5" ry="2" fill="#8e8c9e" opacity="0.7" filter="url(#b1)"/>
<ellipse cx="262" cy="268" rx="2.5" ry="2" fill="#8e8c9e" opacity="0.7" filter="url(#b1)"/>
<ellipse cx="280" cy="264" rx="2.5" ry="2" fill="#8e8c9e" opacity="0.7" filter="url(#b1)"/>
<ellipse cx="296" cy="262" rx="2.5" ry="2" fill="#8e8c9e" opacity="0.7" filter="url(#b1)"/>
<ellipse cx="309" cy="270" rx="2.5" ry="2" fill="#8e8c9e" opacity="0.7" filter="url(#b1)"/>
</g>
<line x1="292.20" y1="239.80" x2="292.20" y2="377.30" stroke="#2a2a2a" stroke-width="1.1" />
<line x1="282.00" y1="250.00" x2="302.00" y2="250.00" stroke="#1c1c1c" stroke-width="1.5" />
<line x1="282.00" y1="307.80" x2="302.00" y2="307.80" stroke="#1c1c1c" stroke-width="1.5" />
<line x1="282.00" y1="367.20" x2="302.00" y2="367.20" stroke="#1c1c1c" stroke-width="1.5" />
<text x="378.50" y="266.70" font-size="24.5" text-anchor="end" font-weight="bold" fill="#fbfdf6" stroke="#fbfdf6" stroke-width="0.9">W-0</text>
<text x="207.30" y="370.30" font-size="18" text-anchor="start" font-weight="bold" fill="#fbfdf6" stroke="#fbfdf6" stroke-width="0.9">After</text>
<text x="378.90" y="357.50" font-size="21" text-anchor="end" font-weight="bold" fill="#fbfdf6" stroke="#fbfdf6" stroke-width="0.9">10 μm</text>
<rect x="321.8" y="365.2" width="56.30000000000001" height="5.100000000000023" fill="#f6f9ee"/>
<g clip-path="url(#ci3)">
<rect x="409.1" y="239.1" width="185.7" height="137.6" fill="#6a6d6b"/>
<ellipse cx="500" cy="240" rx="100" ry="12" fill="#606462" opacity="1" filter="url(#b7)"/>
<ellipse cx="430" cy="320" rx="28" ry="40" fill="#74757f" opacity="1" filter="url(#b12)"/>
<ellipse cx="450" cy="360" rx="30" ry="20" fill="#6f726a" opacity="1" filter="url(#b7)"/>
<ellipse cx="575" cy="330" rx="22" ry="50" fill="#646866" opacity="1" filter="url(#b12)"/>
<ellipse cx="472" cy="280" rx="8" ry="10" fill="#54489a" opacity="1" filter="url(#b2)"/>
<ellipse cx="466" cy="274" rx="10" ry="12" fill="#56489a" opacity="1" filter="url(#b2)"/>
<ellipse cx="458" cy="295" rx="7" ry="5" fill="#5a5090" opacity="1" filter="url(#b2)"/>
<ellipse cx="416" cy="310" rx="8" ry="8" fill="#6a6690" opacity="1" filter="url(#b2)"/>
<ellipse cx="469" cy="330" rx="11" ry="7" fill="#5e5498" opacity="1" filter="url(#b2)"/>
<ellipse cx="451" cy="261" rx="4" ry="8" fill="#909a50" opacity="1" filter="url(#b2)"/>
<ellipse cx="466" cy="255" rx="6" ry="2.5" fill="#84a060" opacity="1" filter="url(#b1)"/>
<ellipse cx="522" cy="356" rx="24" ry="22" fill="#7e9238" opacity="1" filter="url(#b7)"/>
<ellipse cx="585" cy="272" rx="10" ry="14" fill="#6a6a90" opacity="1" filter="url(#b4)"/>
<ellipse cx="590" cy="300" rx="8" ry="10" fill="#6e6e8c" opacity="1" filter="url(#b4)"/>
<ellipse cx="501" cy="307" rx="31.5" ry="30" fill="#262b26" transform="translate(2.9 3.9)" filter="url(#b06)"/>
<ellipse cx="501" cy="307" rx="31.5" ry="30" fill="#979f92" transform="translate(1.5 2.1)" filter="url(#b06)"/>
<linearGradient id="bl3" x1="0" y1="0" x2="1" y2="1"><stop offset="0" stop-color="#4032a2"/><stop offset="0.45" stop-color="#32288c"/><stop offset="1" stop-color="#1a1440"/></linearGradient>
<ellipse cx="501" cy="307" rx="31.5" ry="30" fill="url(#bl3)" opacity="1" filter="url(#b06)"/>
</g>
<line x1="493.00" y1="239.10" x2="493.00" y2="376.70" stroke="#262626" stroke-width="1.2" />
<line x1="480.50" y1="255.80" x2="503.50" y2="255.80" stroke="#1c1c1c" stroke-width="1.5" />
<line x1="480.50" y1="322.50" x2="503.50" y2="322.50" stroke="#1c1c1c" stroke-width="1.3" />
<text x="415.50" y="263.20" font-size="20.5" text-anchor="start" font-weight="bold" fill="#fbfdf6" stroke="#fbfdf6" stroke-width="0.9">(e)</text>
<text x="590.00" y="266.70" font-size="24.5" text-anchor="end" font-weight="bold" fill="#fbfdf6" stroke="#fbfdf6" stroke-width="0.9">W-0.5</text>
<text x="419.40" y="367.70" font-size="18" text-anchor="start" font-weight="bold" fill="#fbfdf6" stroke="#fbfdf6" stroke-width="0.9">Before</text>
<text x="590.50" y="356.70" font-size="21" text-anchor="end" font-weight="bold" fill="#fbfdf6" stroke="#fbfdf6" stroke-width="0.9">10 μm</text>
<rect x="532.6" y="366" width="55.299999999999955" height="5.100000000000023" fill="#f6f9ee"/>
<g clip-path="url(#ci4)">
<rect x="600" y="240.1" width="185.4" height="137.2" fill="#686c67"/>
<ellipse cx="618" cy="330" rx="25" ry="50" fill="#6e726c" opacity="1" filter="url(#b12)"/>
<ellipse cx="673" cy="263" rx="14" ry="9" fill="#5c5b7a" opacity="1" filter="url(#b2)"/>
<ellipse cx="709" cy="280" rx="11" ry="10" fill="#5c5b7a" opacity="1" filter="url(#b2)"/>
<ellipse cx="721" cy="304" rx="9" ry="9" fill="#5c5b7a" opacity="1" filter="url(#b2)"/>
<ellipse cx="767" cy="285" rx="14" ry="11" fill="#5c5b7a" opacity="1" filter="url(#b2)"/>
<ellipse cx="734" cy="321" rx="10" ry="10" fill="#5c5b7a" opacity="1" filter="url(#b2)"/>
<ellipse cx="614" cy="320" rx="9" ry="11" fill="#5c5b7a" opacity="1" filter="url(#b2)"/>
<ellipse cx="607" cy="370" rx="8" ry="8" fill="#5c5b7a" opacity="1" filter="url(#b2)"/>
<ellipse cx="760" cy="252" rx="9" ry="7" fill="#5c5b7a" opacity="1" filter="url(#b2)"/>
<ellipse cx="745" cy="345" rx="8" ry="8" fill="#5c5b7a" opacity="1" filter="url(#b2)"/>
<ellipse cx="640" cy="255" rx="8" ry="6" fill="#5c5b7a" opacity="1" filter="url(#b2)"/>
<ellipse cx="645" cy="272" rx="13" ry="10" fill="#8ca048" opacity="1" filter="url(#b4)"/>
<ellipse cx="765" cy="305" rx="22" ry="14" fill="#7a8a58" opacity="0.9" filter="url(#b7)"/>
<ellipse cx="725" cy="360" rx="30" ry="18" fill="#6e7e3c" opacity="1" filter="url(#b7)"/>
<ellipse cx="678" cy="330" rx="24" ry="24" fill="#33303e" opacity="1" filter="url(#b4)"/>
<path d="M653.7,309 L677,306.7 L693.3,316 L700.3,332.3 L698,346.3 L681.7,351 L667.7,344 L658.3,327.7 Z" fill="#2e2b40" opacity="1" filter="url(#b2)" />
<path d="M635,288 L642,278.7 L656,276.3 L670,281 L679.3,290.3 L684,304.3 L677,316 L665.3,318.3 L653.7,313.7 L642,302 L635,295 Z" fill="#4a38a0" opacity="1" filter="url(#b2)" />
<path d="M655,305 L672,300 L684,310 L688,325 L680,336 L668,334 L658,322 Z" fill="#3a2e7c" opacity="1" filter="url(#b2)" />
</g>
<line x1="691.00" y1="240.10" x2="691.00" y2="377.30" stroke="#262626" stroke-width="1.2" />
<line x1="680.00" y1="297.30" x2="700.00" y2="297.30" stroke="#1c1c1c" stroke-width="1.5" />
<line x1="680.00" y1="355.70" x2="700.00" y2="355.70" stroke="#1c1c1c" stroke-width="1.5" />
<text x="777.70" y="266.20" font-size="24.5" text-anchor="end" font-weight="bold" fill="#fbfdf6" stroke="#fbfdf6" stroke-width="0.9">W-0.5</text>
<text x="605.40" y="367.70" font-size="18" text-anchor="start" font-weight="bold" fill="#fbfdf6" stroke="#fbfdf6" stroke-width="0.9">After</text>
<text x="779.20" y="356.70" font-size="21" text-anchor="end" font-weight="bold" fill="#fbfdf6" stroke="#fbfdf6" stroke-width="0.9">10 μm</text>
<rect x="720.6" y="366" width="56.10000000000002" height="5" fill="#f6f9ee"/>
<line x1="50.30" y1="403.45" x2="50.30" y2="575.35" stroke="#111" stroke-width="1.5" />
<line x1="261.00" y1="403.45" x2="261.00" y2="575.35" stroke="#111" stroke-width="1.5" />
<line x1="49.55" y1="404.20" x2="261.75" y2="404.20" stroke="#111" stroke-width="1.5" />
<line x1="49.55" y1="574.60" x2="261.75" y2="574.60" stroke="#111" stroke-width="1.5" />
<line x1="50.10" y1="574.60" x2="50.10" y2="578.60" stroke="#111" stroke-width="1.2" />
<line x1="101.70" y1="574.60" x2="101.70" y2="578.60" stroke="#111" stroke-width="1.2" />
<line x1="153.30" y1="574.60" x2="153.30" y2="578.60" stroke="#111" stroke-width="1.2" />
<line x1="204.90" y1="574.60" x2="204.90" y2="578.60" stroke="#111" stroke-width="1.2" />
<line x1="256.50" y1="574.60" x2="256.50" y2="578.60" stroke="#111" stroke-width="1.2" />
<line x1="75.90" y1="574.60" x2="75.90" y2="577.10" stroke="#111" stroke-width="1.2" />
<line x1="127.50" y1="574.60" x2="127.50" y2="577.10" stroke="#111" stroke-width="1.2" />
<line x1="179.10" y1="574.60" x2="179.10" y2="577.10" stroke="#111" stroke-width="1.2" />
<line x1="230.70" y1="574.60" x2="230.70" y2="577.10" stroke="#111" stroke-width="1.2" />
<line x1="50.30" y1="574.30" x2="46.30" y2="574.30" stroke="#111" stroke-width="1.2" />
<line x1="50.30" y1="535.50" x2="46.30" y2="535.50" stroke="#111" stroke-width="1.2" />
<line x1="50.30" y1="496.70" x2="46.30" y2="496.70" stroke="#111" stroke-width="1.2" />
<line x1="50.30" y1="457.90" x2="46.30" y2="457.90" stroke="#111" stroke-width="1.2" />
<line x1="50.30" y1="419.10" x2="46.30" y2="419.10" stroke="#111" stroke-width="1.2" />
<line x1="50.30" y1="554.90" x2="47.80" y2="554.90" stroke="#111" stroke-width="1.2" />
<line x1="50.30" y1="516.10" x2="47.80" y2="516.10" stroke="#111" stroke-width="1.2" />
<line x1="50.30" y1="477.30" x2="47.80" y2="477.30" stroke="#111" stroke-width="1.2" />
<line x1="50.30" y1="438.50" x2="47.80" y2="438.50" stroke="#111" stroke-width="1.2" />
<text x="50.10" y="591.50" font-size="10.2" text-anchor="middle" font-weight="bold" fill="#111" stroke="#111" stroke-width="0.3">2.5</text>
<text x="101.70" y="591.50" font-size="10.2" text-anchor="middle" font-weight="bold" fill="#111" stroke="#111" stroke-width="0.3">3.0</text>
<text x="153.30" y="591.50" font-size="10.2" text-anchor="middle" font-weight="bold" fill="#111" stroke="#111" stroke-width="0.3">3.5</text>
<text x="204.90" y="591.50" font-size="10.2" text-anchor="middle" font-weight="bold" fill="#111" stroke="#111" stroke-width="0.3">4.0</text>
<text x="256.50" y="591.50" font-size="10.2" text-anchor="middle" font-weight="bold" fill="#111" stroke="#111" stroke-width="0.3">4.5</text>
<text x="41.90" y="577.70" font-size="10.2" text-anchor="end" font-weight="bold" fill="#111" stroke="#111" stroke-width="0.3">-1.0</text>
<text x="41.90" y="538.90" font-size="10.2" text-anchor="end" font-weight="bold" fill="#111" stroke="#111" stroke-width="0.3">-0.5</text>
<text x="41.90" y="500.10" font-size="10.2" text-anchor="end" font-weight="bold" fill="#111" stroke="#111" stroke-width="0.3">0.0</text>
<text x="41.90" y="461.30" font-size="10.2" text-anchor="end" font-weight="bold" fill="#111" stroke="#111" stroke-width="0.3">0.5</text>
<text x="41.90" y="422.50" font-size="10.2" text-anchor="end" font-weight="bold" fill="#111" stroke="#111" stroke-width="0.3">1.0</text>
<text x="155.65" y="607.00" font-size="14.3" text-anchor="middle" font-weight="bold" fill="#111" stroke="#111" stroke-width="0.3">Potential (V)</text>
<text x="16.80" y="489.00" font-size="14.2" text-anchor="middle" font-weight="bold" fill="#111" transform="rotate(-90 16.80 489.00)" stroke="#111" stroke-width="0.3">Current (A g<tspan dy="-5" font-size="9">-1</tspan><tspan dy="5">)</tspan></text>
<linearGradient id="gf4" gradientUnits="userSpaceOnUse" x1="50.3" y1="0" x2="261" y2="0"><stop offset="0" stop-color="#4a92d2"/><stop offset="0.489" stop-color="#4a92d2"/><stop offset="0.597" stop-color="#b6c9d3"/><stop offset="0.871" stop-color="#b6c9d3"/><stop offset="1" stop-color="#4a92d2"/></linearGradient>
<path d="M50.10,497.48 C63.86,497.41 115.46,497.48 132.66,497.09 C149.86,496.70 147.80,496.76 153.30,495.15 C158.80,493.53 161.38,493.60 165.68,487.39 C169.98,481.18 174.73,465.61 179.10,457.90 C183.47,450.19 188.28,441.79 191.90,441.14 C195.51,440.49 197.74,450.32 200.77,454.02 C203.80,457.72 206.45,460.87 210.06,463.33 C213.67,465.79 219.00,468.76 222.44,468.76 C225.88,468.76 227.95,462.30 230.70,463.33 C233.45,464.37 236.03,471.61 238.96,474.97 C241.88,478.33 245.32,481.57 248.24,483.51 C251.17,485.45 255.12,486.09 256.50,486.61" fill="none" stroke="url(#gf4)" stroke-width="1.5"/>
<path d="M256.50,494.37 C252.89,494.89 240.16,496.05 234.83,497.48 C229.50,498.90 226.97,499.93 224.51,502.91 C222.05,505.88 221.67,510.86 220.07,515.32 C218.47,519.79 216.46,526.32 214.91,529.68 C213.36,533.04 212.62,535.82 210.78,535.50 C208.94,535.18 206.47,529.55 203.87,527.74 C201.27,525.93 198.02,525.35 195.20,524.64 C192.38,523.92 191.07,522.57 186.94,523.47 C182.82,524.38 174.58,529.74 170.43,530.07 C166.29,530.39 164.84,527.87 162.07,525.41 C159.30,522.95 157.26,518.43 153.82,515.32 C150.38,512.22 146.95,508.73 141.43,506.79 C135.91,504.85 135.91,504.85 120.69,503.68 C105.47,502.52 61.86,500.45 50.10,499.80" fill="none" stroke="url(#gf4)" stroke-width="1.5"/>
<linearGradient id="gf3" gradientUnits="userSpaceOnUse" x1="50.3" y1="0" x2="261" y2="0"><stop offset="0" stop-color="#4a92d2"/><stop offset="0.489" stop-color="#4a92d2"/><stop offset="0.597" stop-color="#98b0be"/><stop offset="0.871" stop-color="#98b0be"/><stop offset="1" stop-color="#4a92d2"/></linearGradient>
<path d="M50.10,497.69 C63.86,497.63 115.46,497.64 132.66,497.31 C149.86,496.97 147.89,496.98 153.30,495.69 C158.71,494.40 161.05,494.37 165.11,489.56 C169.17,484.75 173.59,472.81 177.66,466.81 C181.72,460.81 186.10,454.08 189.47,453.55 C192.84,453.01 194.69,460.75 197.88,463.58 C201.07,466.41 204.62,468.68 208.62,470.50 C212.61,472.33 218.38,474.74 221.87,474.52 C225.35,474.30 226.98,468.40 229.54,469.20 C232.10,470.00 234.30,476.48 237.22,479.32 C240.15,482.16 243.88,484.72 247.09,486.22 C250.30,487.73 254.93,488.00 256.50,488.35" fill="none" stroke="url(#gf3)" stroke-width="1.5"/>
<path d="M256.50,494.37 C252.89,494.85 240.11,495.98 234.83,497.26 C229.54,498.54 227.15,499.64 224.80,502.04 C222.45,504.43 222.18,508.16 220.74,511.63 C219.29,515.10 217.48,520.23 216.15,522.84 C214.82,525.44 214.36,527.58 212.75,527.24 C211.13,526.90 208.94,522.27 206.47,520.79 C204.00,519.30 200.81,518.88 197.92,518.33 C195.02,517.79 193.26,516.83 189.08,517.50 C184.91,518.17 177.05,522.16 172.86,522.35 C168.67,522.55 166.91,520.54 163.95,518.68 C160.99,516.82 158.80,513.48 155.12,511.20 C151.44,508.91 147.53,506.37 141.87,504.94 C136.20,503.51 136.45,503.47 121.15,502.60 C105.86,501.72 61.94,500.18 50.10,499.70" fill="none" stroke="url(#gf3)" stroke-width="1.5"/>
<linearGradient id="gf2" gradientUnits="userSpaceOnUse" x1="50.3" y1="0" x2="261" y2="0"><stop offset="0" stop-color="#4a92d2"/><stop offset="0.489" stop-color="#4a92d2"/><stop offset="0.597" stop-color="#6890a6"/><stop offset="0.871" stop-color="#6890a6"/><stop offset="1" stop-color="#4a92d2"/></linearGradient>
<path d="M50.10,497.96 C63.86,497.89 115.46,497.84 132.66,497.57 C149.86,497.30 148.01,497.25 153.30,496.35 C158.59,495.46 160.64,495.32 164.40,492.20 C168.17,489.08 172.21,481.56 175.90,477.63 C179.59,473.69 183.44,469.02 186.52,468.61 C189.60,468.20 190.98,473.42 194.37,475.19 C197.76,476.96 202.40,478.15 206.86,479.21 C211.33,480.26 217.62,481.99 221.16,481.51 C224.71,481.03 225.82,475.81 228.14,476.32 C230.47,476.84 232.19,482.39 235.12,484.59 C238.04,486.79 242.12,488.54 245.68,489.52 C249.25,490.50 254.70,490.30 256.50,490.46" fill="none" stroke="url(#gf2)" stroke-width="1.5"/>
<path d="M256.50,494.37 C252.89,494.81 240.05,495.89 234.83,496.99 C229.60,498.10 227.36,499.29 225.15,500.98 C222.93,502.68 222.79,504.89 221.54,507.14 C220.29,509.40 218.73,512.85 217.66,514.52 C216.59,516.20 216.47,517.58 215.13,517.22 C213.79,516.85 211.95,513.43 209.63,512.34 C207.31,511.26 204.21,511.03 201.21,510.68 C198.22,510.33 195.91,509.86 191.68,510.24 C187.44,510.63 180.05,512.95 175.81,512.99 C171.56,513.03 169.42,511.63 166.23,510.50 C163.05,509.36 160.67,507.48 156.70,506.18 C152.72,504.88 148.22,503.52 142.39,502.70 C136.56,501.88 137.09,501.80 121.71,501.28 C106.33,500.76 62.04,499.85 50.10,499.56" fill="none" stroke="url(#gf2)" stroke-width="1.5"/>
<linearGradient id="gf1" gradientUnits="userSpaceOnUse" x1="50.3" y1="0" x2="261" y2="0"><stop offset="0" stop-color="#4a92d2"/><stop offset="0.489" stop-color="#4a92d2"/><stop offset="0.597" stop-color="#3c6886"/><stop offset="0.871" stop-color="#3c6886"/><stop offset="1" stop-color="#4a92d2"/></linearGradient>
<path d="M50.10,498.10 C63.86,498.03 115.46,497.94 132.66,497.71 C149.86,497.48 148.07,497.39 153.30,496.70 C158.53,496.01 160.42,495.82 164.03,493.60 C167.64,491.37 171.48,486.19 174.97,483.35 C178.46,480.52 182.04,476.92 184.96,476.59 C187.89,476.25 189.02,480.13 192.52,481.34 C196.01,482.54 201.22,483.17 205.93,483.82 C210.64,484.47 217.22,485.84 220.79,485.22 C224.37,484.59 225.20,479.73 227.40,480.09 C229.60,480.46 231.08,485.53 234.00,487.39 C236.93,489.25 241.19,490.57 244.94,491.27 C248.69,491.97 254.57,491.53 256.50,491.58" fill="none" stroke="url(#gf1)" stroke-width="1.5"/>
<path d="M256.50,494.37 C252.89,494.79 240.02,495.85 234.83,496.86 C229.63,497.86 227.48,499.11 225.33,500.42 C223.19,501.74 223.11,503.15 221.97,504.77 C220.82,506.39 219.39,508.93 218.46,510.12 C217.53,511.31 217.59,512.28 216.40,511.91 C215.20,511.53 213.54,508.75 211.30,507.87 C209.06,506.99 206.00,506.88 202.96,506.63 C199.92,506.39 197.32,506.17 193.05,506.40 C188.79,506.63 181.64,508.07 177.37,508.03 C173.10,507.99 170.74,506.92 167.44,506.17 C164.13,505.42 161.66,504.30 157.53,503.53 C153.40,502.75 148.59,502.00 142.67,501.51 C136.75,501.02 137.44,500.92 122.01,500.58 C106.58,500.24 62.08,499.67 50.10,499.49" fill="none" stroke="url(#gf1)" stroke-width="1.5"/>
<linearGradient id="gf0" gradientUnits="userSpaceOnUse" x1="50.3" y1="0" x2="261" y2="0"><stop offset="0" stop-color="#4a92d2"/><stop offset="0.489" stop-color="#4a92d2"/><stop offset="0.597" stop-color="#2a5878"/><stop offset="0.871" stop-color="#2a5878"/><stop offset="1" stop-color="#4a92d2"/></linearGradient>
<path d="M50.10,498.25 C63.86,498.19 115.46,498.06 132.66,497.86 C149.86,497.67 148.14,497.54 153.30,497.09 C158.46,496.64 160.18,496.38 163.62,495.15 C167.06,493.92 170.67,491.33 173.94,489.72 C177.21,488.10 180.48,485.71 183.23,485.45 C185.98,485.19 186.84,487.58 190.45,488.16 C194.06,488.75 199.91,488.75 204.90,488.94 C209.89,489.13 216.77,490.10 220.38,489.33 C223.99,488.55 224.51,484.09 226.57,484.28 C228.64,484.48 229.84,489.00 232.76,490.49 C235.69,491.98 240.16,492.82 244.12,493.21 C248.07,493.60 254.44,492.88 256.50,492.82" fill="none" stroke="url(#gf0)" stroke-width="1.5"/>
<path d="M256.50,494.37 C252.89,494.76 239.99,495.79 234.83,496.70 C229.67,497.61 227.60,498.90 225.54,499.80 C223.48,500.71 223.48,501.23 222.44,502.13 C221.41,503.04 220.12,504.59 219.35,505.24 C218.57,505.88 218.83,506.40 217.80,506.01 C216.77,505.62 215.31,503.55 213.16,502.91 C211.01,502.26 208.00,502.26 204.90,502.13 C201.80,502.00 198.88,502.07 194.58,502.13 C190.28,502.20 183.40,502.65 179.10,502.52 C174.80,502.39 172.22,501.68 168.78,501.36 C165.34,501.03 162.76,500.77 158.46,500.58 C154.16,500.39 149.00,500.32 142.98,500.19 C136.96,500.06 137.82,499.93 122.34,499.80 C106.86,499.67 62.14,499.48 50.10,499.42" fill="none" stroke="url(#gf0)" stroke-width="1.5"/>
<line x1="56.60" y1="414.30" x2="81.60" y2="414.30" stroke="#2a5878" stroke-width="1.8" />
<text x="84.80" y="418.20" font-size="10.7" text-anchor="start" font-weight="bold" fill="#111" stroke="#111" stroke-width="0.3">0.1 mV/s</text>
<line x1="56.60" y1="428.00" x2="81.60" y2="428.00" stroke="#3c6886" stroke-width="1.8" />
<text x="84.80" y="431.90" font-size="10.7" text-anchor="start" font-weight="bold" fill="#111" stroke="#111" stroke-width="0.3">0.2 mV/s</text>
<line x1="56.60" y1="441.70" x2="81.60" y2="441.70" stroke="#6890a6" stroke-width="1.8" />
<text x="84.80" y="445.60" font-size="10.7" text-anchor="start" font-weight="bold" fill="#111" stroke="#111" stroke-width="0.3">0.3 mV/s</text>
<line x1="56.60" y1="455.40" x2="81.60" y2="455.40" stroke="#98b0be" stroke-width="1.8" />
<text x="84.80" y="459.30" font-size="10.7" text-anchor="start" font-weight="bold" fill="#111" stroke="#111" stroke-width="0.3">0.5 mV/s</text>
<line x1="56.60" y1="469.10" x2="81.60" y2="469.10" stroke="#b6c9d3" stroke-width="1.8" />
<text x="84.80" y="473.00" font-size="10.7" text-anchor="start" font-weight="bold" fill="#111" stroke="#111" stroke-width="0.3">0.7 mV/s</text>
<text x="62.50" y="561.50" font-size="14" text-anchor="start" font-weight="bold" fill="#111" stroke="#111" stroke-width="0.3">W-0</text>
<text x="2.50" y="414.70" font-size="21.2" text-anchor="start" font-weight="bold" fill="#111" stroke="#111" stroke-width="0.55">(f)</text>
<line x1="316.50" y1="403.45" x2="316.50" y2="575.35" stroke="#111" stroke-width="1.5" />
<line x1="528.00" y1="403.45" x2="528.00" y2="575.35" stroke="#111" stroke-width="1.5" />
<line x1="315.75" y1="404.20" x2="528.75" y2="404.20" stroke="#111" stroke-width="1.5" />
<line x1="315.75" y1="574.60" x2="528.75" y2="574.60" stroke="#111" stroke-width="1.5" />
<line x1="316.50" y1="574.60" x2="316.50" y2="578.60" stroke="#111" stroke-width="1.2" />
<line x1="368.00" y1="574.60" x2="368.00" y2="578.60" stroke="#111" stroke-width="1.2" />
<line x1="419.50" y1="574.60" x2="419.50" y2="578.60" stroke="#111" stroke-width="1.2" />
<line x1="471.00" y1="574.60" x2="471.00" y2="578.60" stroke="#111" stroke-width="1.2" />
<line x1="522.50" y1="574.60" x2="522.50" y2="578.60" stroke="#111" stroke-width="1.2" />
<line x1="342.25" y1="574.60" x2="342.25" y2="577.10" stroke="#111" stroke-width="1.2" />
<line x1="393.75" y1="574.60" x2="393.75" y2="577.10" stroke="#111" stroke-width="1.2" />
<line x1="445.25" y1="574.60" x2="445.25" y2="577.10" stroke="#111" stroke-width="1.2" />
<line x1="496.75" y1="574.60" x2="496.75" y2="577.10" stroke="#111" stroke-width="1.2" />
<line x1="316.50" y1="574.30" x2="312.50" y2="574.30" stroke="#111" stroke-width="1.2" />
<line x1="316.50" y1="535.50" x2="312.50" y2="535.50" stroke="#111" stroke-width="1.2" />
<line x1="316.50" y1="496.70" x2="312.50" y2="496.70" stroke="#111" stroke-width="1.2" />
<line x1="316.50" y1="457.90" x2="312.50" y2="457.90" stroke="#111" stroke-width="1.2" />
<line x1="316.50" y1="419.10" x2="312.50" y2="419.10" stroke="#111" stroke-width="1.2" />
<line x1="316.50" y1="554.90" x2="314.00" y2="554.90" stroke="#111" stroke-width="1.2" />
<line x1="316.50" y1="516.10" x2="314.00" y2="516.10" stroke="#111" stroke-width="1.2" />
<line x1="316.50" y1="477.30" x2="314.00" y2="477.30" stroke="#111" stroke-width="1.2" />
<line x1="316.50" y1="438.50" x2="314.00" y2="438.50" stroke="#111" stroke-width="1.2" />
<text x="316.50" y="591.50" font-size="10.2" text-anchor="middle" font-weight="bold" fill="#111" stroke="#111" stroke-width="0.3">2.5</text>
<text x="368.00" y="591.50" font-size="10.2" text-anchor="middle" font-weight="bold" fill="#111" stroke="#111" stroke-width="0.3">3.0</text>
<text x="419.50" y="591.50" font-size="10.2" text-anchor="middle" font-weight="bold" fill="#111" stroke="#111" stroke-width="0.3">3.5</text>
<text x="471.00" y="591.50" font-size="10.2" text-anchor="middle" font-weight="bold" fill="#111" stroke="#111" stroke-width="0.3">4.0</text>
<text x="522.50" y="591.50" font-size="10.2" text-anchor="middle" font-weight="bold" fill="#111" stroke="#111" stroke-width="0.3">4.5</text>
<text x="308.10" y="577.70" font-size="10.2" text-anchor="end" font-weight="bold" fill="#111" stroke="#111" stroke-width="0.3">-1.0</text>
<text x="308.10" y="538.90" font-size="10.2" text-anchor="end" font-weight="bold" fill="#111" stroke="#111" stroke-width="0.3">-0.5</text>
<text x="308.10" y="500.10" font-size="10.2" text-anchor="end" font-weight="bold" fill="#111" stroke="#111" stroke-width="0.3">0.0</text>
<text x="308.10" y="461.30" font-size="10.2" text-anchor="end" font-weight="bold" fill="#111" stroke="#111" stroke-width="0.3">0.5</text>
<text x="308.10" y="422.50" font-size="10.2" text-anchor="end" font-weight="bold" fill="#111" stroke="#111" stroke-width="0.3">1.0</text>
<text x="422.25" y="607.00" font-size="14.3" text-anchor="middle" font-weight="bold" fill="#111" stroke="#111" stroke-width="0.3">Potential (V)</text>
<text x="283.00" y="489.00" font-size="14.2" text-anchor="middle" font-weight="bold" fill="#111" transform="rotate(-90 283.00 489.00)" stroke="#111" stroke-width="0.3">Current (A g<tspan dy="-5" font-size="9">-1</tspan><tspan dy="5">)</tspan></text>
<linearGradient id="gg4" gradientUnits="userSpaceOnUse" x1="316.5" y1="0" x2="528" y2="0"><stop offset="0" stop-color="#ec7c7c"/><stop offset="0.487" stop-color="#ec7c7c"/><stop offset="0.594" stop-color="#e8bcc0"/><stop offset="0.867" stop-color="#e8bcc0"/><stop offset="1" stop-color="#ec7c7c"/></linearGradient>
<path d="M316.50,497.48 C330.23,497.41 381.73,497.48 398.90,497.09 C416.07,496.70 414.01,496.25 419.50,495.15 C424.99,494.05 427.77,496.96 431.86,490.49 C435.95,484.03 439.64,469.28 444.01,456.35 C448.39,443.41 454.83,418.71 458.12,412.89 C461.42,407.07 461.82,417.29 463.79,421.43 C465.76,425.57 467.91,434.23 469.97,437.72 C472.03,441.22 474.09,440.96 476.15,442.38 C478.21,443.80 479.76,443.75 482.33,446.26 C484.91,448.77 489.06,456.92 491.60,457.43 C494.14,457.95 495.51,447.99 497.57,449.36 C499.63,450.73 501.52,460.36 503.96,465.66 C506.40,470.96 509.02,477.36 512.20,481.18 C515.38,485.00 521.21,487.32 523.01,488.55" fill="none" stroke="url(#gg4)" stroke-width="1.5"/>
<path d="M521.47,494.37 C519.05,494.95 511.75,495.92 506.95,497.86 C502.14,499.80 496.22,501.03 492.63,506.01 C489.04,510.99 487.43,519.72 485.42,527.74 C483.41,535.76 481.97,548.17 480.58,554.12 C479.19,560.07 478.66,564.47 477.08,563.44 C475.50,562.40 473.28,551.15 471.10,547.92 C468.92,544.68 466.78,545.46 464.00,544.04 C461.21,542.61 457.59,539.77 454.42,539.38 C451.24,538.99 448.12,540.09 444.94,541.71 C441.77,543.32 438.16,548.69 435.36,549.08 C432.56,549.47 430.54,546.82 428.15,544.04 C425.77,541.26 423.83,537.05 421.05,532.40 C418.26,527.74 415.04,520.11 411.47,516.10 C407.90,512.09 405.56,510.59 399.62,508.34 C393.68,506.09 379.79,503.55 375.83,502.60" fill="none" stroke="url(#gg4)" stroke-width="1.5"/>
<linearGradient id="gg3" gradientUnits="userSpaceOnUse" x1="316.5" y1="0" x2="528" y2="0"><stop offset="0" stop-color="#ec7c7c"/><stop offset="0.487" stop-color="#ec7c7c"/><stop offset="0.594" stop-color="#cf9ea4"/><stop offset="0.867" stop-color="#cf9ea4"/><stop offset="1" stop-color="#ec7c7c"/></linearGradient>
<path d="M316.50,497.69 C330.23,497.63 381.73,497.64 398.90,497.31 C416.07,496.97 414.10,496.61 419.50,495.69 C424.90,494.77 427.48,496.90 431.28,491.80 C435.09,486.69 438.48,475.06 442.34,465.04 C446.20,455.02 451.48,435.99 454.43,431.69 C457.38,427.39 457.88,435.96 460.04,439.24 C462.20,442.53 464.93,448.95 467.37,451.41 C469.82,453.87 472.41,453.05 474.71,454.00 C477.01,454.96 478.60,455.08 481.18,457.12 C483.75,459.17 487.63,465.90 490.16,466.26 C492.69,466.61 494.30,458.19 496.36,459.25 C498.42,460.31 499.97,468.41 502.52,472.61 C505.06,476.81 508.23,481.55 511.62,484.44 C515.02,487.33 521.00,489.04 522.87,489.96" fill="none" stroke="url(#gg3)" stroke-width="1.5"/>
<path d="M521.47,494.37 C519.05,494.90 511.83,495.85 506.98,497.54 C502.12,499.22 495.79,500.62 492.34,504.49 C488.89,508.37 488.02,514.65 486.29,520.79 C484.55,526.92 483.14,536.66 481.93,541.30 C480.73,545.95 480.59,549.59 479.07,548.66 C477.55,547.73 474.99,538.40 472.80,535.75 C470.62,533.09 468.80,533.85 465.96,532.74 C463.12,531.62 459.16,529.23 455.77,529.06 C452.38,528.89 449.01,530.49 445.60,531.71 C442.20,532.93 438.43,536.31 435.36,536.37 C432.29,536.43 430.01,534.27 427.17,532.09 C424.33,529.90 421.51,526.71 418.31,523.27 C415.10,519.83 412.17,514.35 407.95,511.43 C403.72,508.51 401.08,507.39 392.96,505.73 C384.84,504.08 364.84,502.20 359.22,501.49" fill="none" stroke="url(#gg3)" stroke-width="1.5"/>
<linearGradient id="gg2" gradientUnits="userSpaceOnUse" x1="316.5" y1="0" x2="528" y2="0"><stop offset="0" stop-color="#ec7c7c"/><stop offset="0.487" stop-color="#ec7c7c"/><stop offset="0.594" stop-color="#b9727a"/><stop offset="0.867" stop-color="#b9727a"/><stop offset="1" stop-color="#ec7c7c"/></linearGradient>
<path d="M316.50,497.94 C330.23,497.88 381.73,497.83 398.90,497.55 C416.07,497.28 414.21,497.02 419.50,496.31 C424.79,495.60 427.14,496.84 430.62,493.29 C434.11,489.73 437.16,481.66 440.43,474.97 C443.69,468.29 447.66,455.73 450.21,453.17 C452.77,450.61 453.39,457.29 455.76,459.61 C458.12,461.92 461.52,465.78 464.41,467.06 C467.29,468.34 470.48,466.88 473.06,467.29 C475.63,467.70 477.28,468.03 479.86,469.54 C482.43,471.05 485.99,476.17 488.51,476.34 C491.03,476.51 492.92,469.85 494.98,470.55 C497.04,471.25 498.21,477.62 500.87,480.56 C503.53,483.50 507.32,486.33 510.96,488.16 C514.60,490.00 520.75,491.01 522.71,491.58" fill="none" stroke="url(#gg2)" stroke-width="1.5"/>
<path d="M521.47,494.37 C519.06,494.84 511.92,495.77 507.01,497.17 C502.10,498.56 495.30,500.14 492.01,502.75 C488.72,505.37 488.70,508.86 487.27,512.84 C485.85,516.82 484.47,523.50 483.48,526.65 C482.49,529.81 482.80,532.58 481.34,531.78 C479.89,530.97 476.94,523.83 474.75,521.84 C472.56,519.85 471.10,520.59 468.20,519.82 C465.29,519.06 460.96,517.19 457.32,517.26 C453.68,517.34 450.02,519.53 446.36,520.29 C442.70,521.05 438.75,522.15 435.36,521.84 C431.98,521.53 429.42,519.93 426.05,518.43 C422.69,516.93 418.86,514.90 415.17,512.84 C411.49,510.78 408.90,507.77 403.93,506.09 C398.95,504.41 395.96,503.73 385.35,502.75 C374.73,501.78 347.75,500.64 340.23,500.22" fill="none" stroke="url(#gg2)" stroke-width="1.5"/>
<linearGradient id="gg1" gradientUnits="userSpaceOnUse" x1="316.5" y1="0" x2="528" y2="0"><stop offset="0" stop-color="#ec7c7c"/><stop offset="0.487" stop-color="#ec7c7c"/><stop offset="0.594" stop-color="#ad4650"/><stop offset="0.867" stop-color="#ad4650"/><stop offset="1" stop-color="#ec7c7c"/></linearGradient>
<path d="M316.50,498.08 C330.23,498.01 381.73,497.93 398.90,497.69 C416.07,497.45 414.27,497.25 419.50,496.65 C424.73,496.05 426.95,496.81 430.26,494.10 C433.58,491.39 436.44,485.27 439.38,480.40 C442.32,475.54 445.57,466.52 447.91,464.91 C450.25,463.30 450.93,468.96 453.41,470.74 C455.89,472.53 459.66,474.98 462.79,475.61 C465.91,476.25 469.43,474.44 472.16,474.55 C474.88,474.67 476.56,475.11 479.14,476.33 C481.71,477.55 485.09,481.78 487.61,481.85 C490.12,481.92 492.16,476.22 494.22,476.73 C496.28,477.24 497.24,482.66 499.97,484.90 C502.70,487.15 506.83,488.94 510.60,490.20 C514.38,491.46 520.61,492.08 522.62,492.46" fill="none" stroke="url(#gg1)" stroke-width="1.5"/>
<path d="M521.47,494.37 C519.06,494.80 511.97,495.72 507.03,496.96 C502.09,498.20 495.03,499.88 491.83,501.80 C488.63,503.72 489.06,505.69 487.81,508.50 C486.56,511.30 485.20,516.30 484.33,518.64 C483.46,520.98 484.00,523.27 482.58,522.54 C481.17,521.81 478.01,515.87 475.81,514.24 C473.62,512.61 472.36,513.33 469.42,512.76 C466.48,512.19 461.94,510.60 458.17,510.81 C454.39,511.03 450.58,513.53 446.78,514.04 C442.98,514.56 438.92,514.41 435.36,513.90 C431.81,513.38 429.09,512.09 425.44,510.96 C421.79,509.83 417.41,508.44 413.46,507.14 C409.51,505.84 407.11,504.17 401.73,503.17 C396.35,502.17 393.16,501.73 381.18,501.12 C369.20,500.52 338.40,499.80 329.85,499.53" fill="none" stroke="url(#gg1)" stroke-width="1.5"/>
<linearGradient id="gg0" gradientUnits="userSpaceOnUse" x1="316.5" y1="0" x2="528" y2="0"><stop offset="0" stop-color="#ec7c7c"/><stop offset="0.487" stop-color="#ec7c7c"/><stop offset="0.594" stop-color="#8e343c"/><stop offset="0.867" stop-color="#8e343c"/><stop offset="1" stop-color="#ec7c7c"/></linearGradient>
<path d="M316.50,498.25 C330.23,498.19 381.73,498.06 398.90,497.86 C416.07,497.67 414.35,497.54 419.50,497.09 C424.65,496.64 426.71,496.76 429.80,495.15 C432.89,493.53 435.52,489.91 438.04,487.39 C440.56,484.87 442.88,480.40 444.94,480.02 C447.00,479.63 447.77,483.96 450.40,485.06 C453.03,486.16 457.27,486.81 460.70,486.61 C464.13,486.42 468.08,484.15 471.00,483.90 C473.92,483.64 475.64,484.22 478.21,485.06 C480.79,485.90 483.94,489.00 486.45,488.94 C488.96,488.88 491.19,484.41 493.25,484.67 C495.31,484.93 495.99,489.13 498.81,490.49 C501.63,491.85 506.19,492.30 510.14,492.82 C514.09,493.34 520.44,493.47 522.50,493.60" fill="none" stroke="url(#gg0)" stroke-width="1.5"/>
<path d="M521.47,494.37 C519.07,494.76 512.03,495.67 507.05,496.70 C502.07,497.73 494.69,499.55 491.60,500.58 C488.51,501.61 489.54,501.61 488.51,502.91 C487.48,504.20 486.14,507.05 485.42,508.34 C484.70,509.63 485.56,511.31 484.18,510.67 C482.81,510.02 479.38,505.62 477.18,504.46 C474.98,503.30 473.99,504.01 471.00,503.68 C468.01,503.36 463.21,502.13 459.26,502.52 C455.31,502.91 451.29,505.82 447.31,506.01 C443.33,506.21 439.14,504.46 435.36,503.68 C431.59,502.91 428.67,502.00 424.65,501.36 C420.63,500.71 415.55,500.13 411.26,499.80 C406.97,499.48 404.81,499.55 398.90,499.42 C392.99,499.29 389.56,499.16 375.83,499.03 C362.09,498.90 326.39,498.70 316.50,498.64" fill="none" stroke="url(#gg0)" stroke-width="1.5"/>
<line x1="323.00" y1="414.30" x2="348.00" y2="414.30" stroke="#8e343c" stroke-width="1.8" />
<text x="351.20" y="418.20" font-size="10.7" text-anchor="start" font-weight="bold" fill="#111" stroke="#111" stroke-width="0.3">0.1 mV/s</text>
<line x1="323.00" y1="428.00" x2="348.00" y2="428.00" stroke="#ad4650" stroke-width="1.8" />
<text x="351.20" y="431.90" font-size="10.7" text-anchor="start" font-weight="bold" fill="#111" stroke="#111" stroke-width="0.3">0.2 mV/s</text>
<line x1="323.00" y1="441.70" x2="348.00" y2="441.70" stroke="#b9727a" stroke-width="1.8" />
<text x="351.20" y="445.60" font-size="10.7" text-anchor="start" font-weight="bold" fill="#111" stroke="#111" stroke-width="0.3">0.3 mV/s</text>
<line x1="323.00" y1="455.40" x2="348.00" y2="455.40" stroke="#cf9ea4" stroke-width="1.8" />
<text x="351.20" y="459.30" font-size="10.7" text-anchor="start" font-weight="bold" fill="#111" stroke="#111" stroke-width="0.3">0.5 mV/s</text>
<line x1="323.00" y1="469.10" x2="348.00" y2="469.10" stroke="#e8bcc0" stroke-width="1.8" />
<text x="351.20" y="473.00" font-size="10.7" text-anchor="start" font-weight="bold" fill="#111" stroke="#111" stroke-width="0.3">0.7 mV/s</text>
<text x="327.50" y="561.50" font-size="14" text-anchor="start" font-weight="bold" fill="#111" stroke="#111" stroke-width="0.3">W-0.5</text>
<text x="268.00" y="413.20" font-size="21.2" text-anchor="start" font-weight="bold" fill="#111" stroke="#111" stroke-width="0.55">(g)</text>
<rect x="580.2" y="404.2" width="210.5999999999999" height="102.80000000000001" fill="#fce6ad"/>
<rect x="580.2" y="507" width="210.5999999999999" height="67.60000000000002" fill="#c7ead6"/>
<line x1="580.20" y1="403.45" x2="580.20" y2="575.35" stroke="#111" stroke-width="1.5" />
<line x1="790.80" y1="403.45" x2="790.80" y2="575.35" stroke="#111" stroke-width="1.5" />
<line x1="579.45" y1="404.20" x2="791.55" y2="404.20" stroke="#111" stroke-width="1.5" />
<line x1="579.45" y1="574.60" x2="791.55" y2="574.60" stroke="#111" stroke-width="1.5" />
<line x1="604.90" y1="574.60" x2="604.90" y2="578.60" stroke="#111" stroke-width="1.2" />
<line x1="653.90" y1="574.60" x2="653.90" y2="578.60" stroke="#111" stroke-width="1.2" />
<line x1="702.90" y1="574.60" x2="702.90" y2="578.60" stroke="#111" stroke-width="1.2" />
<line x1="751.90" y1="574.60" x2="751.90" y2="578.60" stroke="#111" stroke-width="1.2" />
<line x1="580.40" y1="574.60" x2="580.40" y2="577.10" stroke="#111" stroke-width="1.2" />
<line x1="629.40" y1="574.60" x2="629.40" y2="577.10" stroke="#111" stroke-width="1.2" />
<line x1="678.40" y1="574.60" x2="678.40" y2="577.10" stroke="#111" stroke-width="1.2" />
<line x1="727.40" y1="574.60" x2="727.40" y2="577.10" stroke="#111" stroke-width="1.2" />
<line x1="776.40" y1="574.60" x2="776.40" y2="577.10" stroke="#111" stroke-width="1.2" />
<line x1="580.20" y1="574.30" x2="576.20" y2="574.30" stroke="#111" stroke-width="1.2" />
<line x1="580.20" y1="538.90" x2="576.20" y2="538.90" stroke="#111" stroke-width="1.2" />
<line x1="580.20" y1="503.50" x2="576.20" y2="503.50" stroke="#111" stroke-width="1.2" />
<line x1="580.20" y1="468.10" x2="576.20" y2="468.10" stroke="#111" stroke-width="1.2" />
<line x1="580.20" y1="432.70" x2="576.20" y2="432.70" stroke="#111" stroke-width="1.2" />
<line x1="580.20" y1="556.60" x2="577.70" y2="556.60" stroke="#111" stroke-width="1.2" />
<line x1="580.20" y1="521.20" x2="577.70" y2="521.20" stroke="#111" stroke-width="1.2" />
<line x1="580.20" y1="485.80" x2="577.70" y2="485.80" stroke="#111" stroke-width="1.2" />
<line x1="580.20" y1="450.40" x2="577.70" y2="450.40" stroke="#111" stroke-width="1.2" />
<text x="604.90" y="591.50" font-size="10.2" text-anchor="middle" font-weight="bold" fill="#111" stroke="#111" stroke-width="0.3">0.010</text>
<text x="653.90" y="591.50" font-size="10.2" text-anchor="middle" font-weight="bold" fill="#111" stroke="#111" stroke-width="0.3">0.015</text>
<text x="702.90" y="591.50" font-size="10.2" text-anchor="middle" font-weight="bold" fill="#111" stroke="#111" stroke-width="0.3">0.020</text>
<text x="751.90" y="591.50" font-size="10.2" text-anchor="middle" font-weight="bold" fill="#111" stroke="#111" stroke-width="0.3">0.025</text>
<text x="571.80" y="577.70" font-size="10.2" text-anchor="end" font-weight="bold" fill="#111" stroke="#111" stroke-width="0.3">-1.0</text>
<text x="571.80" y="542.30" font-size="10.2" text-anchor="end" font-weight="bold" fill="#111" stroke="#111" stroke-width="0.3">-0.5</text>
<text x="571.80" y="506.90" font-size="10.2" text-anchor="end" font-weight="bold" fill="#111" stroke="#111" stroke-width="0.3">0.0</text>
<text x="571.80" y="471.50" font-size="10.2" text-anchor="end" font-weight="bold" fill="#111" stroke="#111" stroke-width="0.3">0.5</text>
<text x="571.80" y="436.10" font-size="10.2" text-anchor="end" font-weight="bold" fill="#111" stroke="#111" stroke-width="0.3">1.0</text>
<text x="685.50" y="607.50" font-size="14.3" text-anchor="middle" font-weight="bold" fill="#111" stroke="#111" stroke-width="0.3">v<tspan dy="-5.5" font-size="9.5" font-weight="normal" stroke-width="0">1/2</tspan><tspan dy="5.5" font-weight="normal" stroke-width="0"> (</tspan>V<tspan dy="-5.5" font-size="9.5" font-weight="normal" stroke-width="0">1/2</tspan><tspan dy="5.5"> s</tspan><tspan dy="-5.5" font-size="9.5" font-weight="normal" stroke-width="0">-1/2</tspan><tspan dy="5.5" font-weight="normal" stroke-width="0">)</tspan></text>
<text x="546.70" y="489.00" font-size="14.2" text-anchor="middle" font-weight="bold" fill="#111" transform="rotate(-90 546.70 489.00)" stroke="#111" stroke-width="0.3">Current (A g<tspan dy="-5" font-size="9">-1</tspan><tspan dy="5">)</tspan></text>
<text x="534.50" y="414.70" font-size="21.2" text-anchor="start" font-weight="bold" fill="#111" stroke="#111" stroke-width="0.55">(h)</text>
<radialGradient id="gbh" cx="0.4" cy="0.38" r="0.62" fx="0.32" fy="0.26"><stop offset="0" stop-color="#d8e8ff"/><stop offset="0.28" stop-color="#3f7fe0"/><stop offset="0.75" stop-color="#1a5ccc"/><stop offset="1" stop-color="#1448a8"/></radialGradient>
<radialGradient id="grh" cx="0.4" cy="0.38" r="0.62" fx="0.32" fy="0.26"><stop offset="0" stop-color="#ffe0dc"/><stop offset="0.28" stop-color="#ee5a58"/><stop offset="0.75" stop-color="#e0383a"/><stop offset="1" stop-color="#c02a2c"/></radialGradient>
<circle cx="604.90" cy="512.70" r="7.4" fill="url(#grh)"/>
<circle cx="645.49" cy="520.49" r="7.4" fill="url(#grh)"/>
<circle cx="676.65" cy="527.57" r="7.4" fill="url(#grh)"/>
<circle cx="726.04" cy="538.90" r="7.4" fill="url(#grh)"/>
<circle cx="766.19" cy="550.94" r="7.4" fill="url(#grh)"/>
<circle cx="604.90" cy="509.87" r="7.4" fill="url(#gbh)"/>
<circle cx="645.49" cy="514.83" r="7.4" fill="url(#gbh)"/>
<circle cx="676.65" cy="519.08" r="7.4" fill="url(#gbh)"/>
<circle cx="726.04" cy="526.86" r="7.4" fill="url(#gbh)"/>
<circle cx="766.19" cy="533.94" r="7.4" fill="url(#gbh)"/>
<circle cx="604.90" cy="487.92" r="7.4" fill="url(#grh)"/>
<circle cx="645.49" cy="474.47" r="7.4" fill="url(#grh)"/>
<circle cx="676.65" cy="463.14" r="7.4" fill="url(#grh)"/>
<circle cx="726.04" cy="443.32" r="7.4" fill="url(#grh)"/>
<circle cx="766.19" cy="425.62" r="7.4" fill="url(#grh)"/>
<circle cx="604.90" cy="492.88" r="7.4" fill="url(#gbh)"/>
<circle cx="645.49" cy="484.38" r="7.4" fill="url(#gbh)"/>
<circle cx="676.65" cy="477.30" r="7.4" fill="url(#gbh)"/>
<circle cx="726.04" cy="464.56" r="7.4" fill="url(#gbh)"/>
<circle cx="766.19" cy="452.52" r="7.4" fill="url(#gbh)"/>
<line x1="604.90" y1="511.50" x2="766.19" y2="549.53" stroke="#c85a48" stroke-width="1.5" />
<line x1="604.90" y1="509.10" x2="766.19" y2="533.24" stroke="#3a70a0" stroke-width="1.5" />
<line x1="604.90" y1="489.46" x2="766.19" y2="427.02" stroke="#d6643c" stroke-width="1.5" />
<line x1="604.90" y1="494.07" x2="766.19" y2="453.74" stroke="#3a70a0" stroke-width="1.5" />
<circle cx="599.60" cy="419.60" r="7.0" fill="url(#gbh)"/>
<text x="615.80" y="423.40" font-size="10.6" text-anchor="start" font-weight="bold" fill="#111" stroke="#111" stroke-width="0.3">W-0</text>
<circle cx="653.80" cy="419.60" r="7.0" fill="url(#grh)"/>
<text x="670.00" y="423.40" font-size="10.6" text-anchor="start" font-weight="bold" fill="#111" stroke="#111" stroke-width="0.3">W-0.5</text>
<clipPath id="pic"><rect x="140" y="623.8" width="83.6" height="171.80000000000007"/></clipPath>
<path d="M56.70,789.30 L56.70,776.10 L57.21,777.43 L57.72,778.62 L58.23,779.69 L58.74,780.66 L59.26,781.52 L59.77,782.30 L60.28,783.01 L60.79,783.64 L61.30,784.21 L61.81,784.72 L62.32,785.18 L62.83,785.59 L63.34,785.96 L63.86,786.30 L64.37,786.60 L64.88,786.87 L65.39,787.12 L65.90,787.34 L66.41,787.53 L66.92,787.71 L67.43,787.87 L67.94,788.01 L68.46,788.14 L68.97,788.26 L69.48,788.36 L69.99,788.46 L70.50,788.54 L70.50,788.54 L70.50,766.60 L71.00,767.97 L71.50,769.25 L72.01,770.46 L72.51,771.59 L73.01,772.66 L73.51,773.66 L74.02,774.60 L74.52,775.49 L75.02,776.32 L75.52,777.10 L76.02,777.84 L76.53,778.53 L77.03,779.18 L77.53,779.79 L78.03,780.36 L78.53,780.90 L79.04,781.40 L79.54,781.88 L80.04,782.33 L80.54,782.75 L81.05,783.14 L81.55,783.51 L82.05,783.86 L82.55,784.19 L83.05,784.50 L83.56,784.78 L84.06,785.06 L84.56,785.31 L85.06,785.55 L85.57,785.78 L86.07,785.99 L86.57,786.19 L87.07,786.38 L87.57,786.55 L88.08,786.72 L88.58,786.87 L89.08,787.02 L89.58,787.16 L90.08,787.29 L90.59,787.41 L91.09,787.52 L91.59,787.63 L92.09,787.73 L92.60,787.82 L93.10,787.91 L93.60,788.00 L93.60,788.00 L93.60,769.00 L94.11,771.70 L94.63,774.05 L95.14,776.08 L95.66,777.84 L96.17,779.36 L96.69,780.69 L97.20,781.83 L97.72,782.83 L98.23,783.69 L98.75,784.44 L99.27,785.08 L99.78,785.64 L100.30,786.13 L100.81,786.55 L101.33,786.92 L101.84,787.24 L102.36,787.51 L102.87,787.75 L103.39,787.96 L103.90,788.13 L103.90,788.13 L103.90,765.90 L104.42,769.52 L104.94,772.58 L105.45,775.17 L105.97,777.35 L106.49,779.20 L107.01,780.76 L107.52,782.08 L108.04,783.20 L108.56,784.14 L109.08,784.94 L109.59,785.62 L110.11,786.19 L110.63,786.67 L111.15,787.07 L111.66,787.42 L112.18,787.71 L112.70,787.96 L112.70,787.96 L112.70,763.70 L113.21,768.43 L113.73,772.28 L114.24,775.42 L114.76,777.98 L115.27,780.07 L115.79,781.78 L116.30,783.16 L116.81,784.30 L117.33,785.22 L117.84,785.97 L118.36,786.59 L118.87,787.09 L119.39,787.50 L119.90,787.83 L119.90,787.83 L119.90,755.90 L120.43,762.98 L120.97,768.55 L121.50,772.95 L122.03,776.41 L122.57,779.14 L123.10,781.30 L123.63,782.99 L124.17,784.33 L124.70,785.38 L125.23,786.21 L125.77,786.87 L126.30,787.38 L126.30,787.38 L126.30,752.30 L126.80,760.14 L127.30,766.32 L127.80,771.19 L128.30,775.02 L128.80,778.05 L129.30,780.43 L129.80,782.31 L130.30,783.79 L130.80,784.96 L131.30,785.88 L131.80,786.60 L132.30,787.17 L132.30,787.17 L132.30,742.80 L132.84,754.36 L133.38,763.04 L133.92,769.57 L134.46,774.47 L135.00,778.16 L135.54,780.93 L136.08,783.01 L136.62,784.57 L137.16,785.75 L137.70,786.63 L137.70,786.63 L137.70,736.30 L138.21,754.06 L138.73,765.87 L139.24,773.72 L139.76,778.94 L140.27,782.41 L140.79,784.72 L141.30,786.26 L141.30,786.26 L141.30,732.00 L141.80,761.25 L142.30,775.57 L142.80,782.58 L143.30,786.01 L143.30,786.01 L143.30,729.20 L143.84,746.24 L144.38,758.44 L144.91,767.19 L145.45,773.46 L145.45,773.46 L145.45,727.04 L145.99,744.69 L146.53,757.34 L147.06,766.40 L147.60,772.89 L147.60,772.89 L147.60,725.25 L148.14,743.41 L148.68,756.42 L149.21,765.74 L149.75,772.42 L149.75,772.42 L149.75,723.77 L150.29,742.34 L150.83,755.65 L151.36,765.19 L151.90,772.03 L151.90,772.03 L151.90,722.27 L152.44,741.27 L152.98,754.88 L153.51,764.64 L154.05,771.63 L154.05,771.63 L154.05,720.49 L154.59,739.99 L155.13,753.97 L155.66,763.99 L156.20,771.16 L156.20,771.16 L156.20,718.10 L156.74,738.28 L157.28,752.74 L157.81,763.11 L158.35,770.53 L158.35,770.53 L158.35,715.23 L158.89,736.23 L159.43,751.27 L159.96,762.05 L160.50,769.78 L160.50,769.78 L160.50,713.00 L161.04,734.63 L161.58,750.13 L162.11,761.23 L162.65,769.19 L162.65,769.19 L162.65,711.00 L163.19,733.20 L163.73,749.10 L164.26,760.50 L164.80,768.66 L164.80,768.66 L164.80,709.57 L165.34,732.17 L165.88,748.36 L166.41,759.97 L166.95,768.28 L166.95,768.28 L166.95,708.48 L167.49,731.39 L168.03,747.81 L168.56,759.57 L169.10,768.00 L169.10,768.00 L169.10,707.71 L169.64,730.84 L170.18,747.41 L170.71,759.28 L171.25,767.79 L171.25,767.79 L171.25,707.37 L171.79,730.60 L172.33,747.24 L172.86,759.16 L173.40,767.70 L173.40,767.70 L173.40,707.86 L173.94,730.95 L174.48,747.49 L175.01,759.34 L175.55,767.83 L175.55,767.83 L175.55,708.47 L176.09,731.38 L176.63,747.80 L177.16,759.56 L177.70,767.99 L177.70,767.99 L177.70,709.90 L178.24,732.41 L178.78,748.53 L179.31,760.09 L179.85,768.37 L179.85,768.37 L179.85,711.03 L180.39,733.21 L180.93,749.11 L181.46,760.50 L182.00,768.67 L182.00,768.67 L182.00,711.76 L182.54,733.74 L183.08,749.49 L183.61,760.78 L184.15,768.86 L184.15,768.86 L184.15,714.23 L184.69,735.51 L185.23,750.76 L185.76,761.68 L186.30,769.51 L186.30,769.51 L186.30,717.59 L186.84,737.92 L187.38,752.48 L187.91,762.92 L188.45,770.40 L188.45,770.40 L188.45,723.98 L188.99,742.50 L189.53,755.76 L190.06,765.27 L190.60,772.08 L190.60,772.08 L190.60,730.20 L191.14,746.95 L191.68,758.96 L192.21,767.56 L192.75,773.72 L192.75,773.72 L192.75,736.39 L193.29,751.39 L193.83,762.14 L194.36,769.84 L194.90,775.35 L194.90,775.35 L194.90,744.90 L195.44,757.49 L195.98,766.51 L196.51,772.97 L197.05,777.60 L197.05,777.60 L197.05,750.32 L197.59,761.37 L198.13,769.29 L198.66,774.96 L199.20,779.02 L199.20,779.02 L199.20,756.30 L199.74,765.65 L200.28,772.36 L200.81,777.16 L201.35,780.60 L201.35,780.60 L201.35,762.75 L201.89,770.28 L202.43,775.67 L202.96,779.53 L203.50,782.30 L203.50,782.30 L203.50,766.12 L204.04,772.69 L204.58,777.40 L205.11,780.77 L205.65,783.19 L205.65,783.19 L205.65,766.93 L206.19,773.27 L206.73,777.81 L207.26,781.07 L207.80,783.40 L207.80,783.40 L207.80,767.21 L208.34,773.47 L208.88,777.96 L209.41,781.17 L209.95,783.48 L209.95,783.48 L209.95,767.49 L210.49,773.67 L211.03,778.10 L211.56,781.28 L212.10,783.55 L212.10,783.55 L212.10,767.60 L212.64,773.75 L213.18,778.16 L213.71,781.32 L214.25,783.58 L214.25,783.58 L214.25,767.71 L214.79,773.83 L215.33,778.21 L215.86,781.36 L216.40,783.61 L216.40,783.61 L216.40,767.81 L217.00,772.84 L217.60,776.69 L218.20,779.64 L218.80,781.90 L219.40,783.64 L219.40,789.30 L56.70,789.30 Z" fill="#93cff6" stroke="none" clip-path="url(#pic)"/>
<polyline points="56.70,789.30 56.70,776.10 57.21,777.43 57.72,778.62 58.23,779.69 58.74,780.66 59.26,781.52 59.77,782.30 60.28,783.01 60.79,783.64 61.30,784.21 61.81,784.72 62.32,785.18 62.83,785.59 63.34,785.96 63.86,786.30 64.37,786.60 64.88,786.87 65.39,787.12 65.90,787.34 66.41,787.53 66.92,787.71 67.43,787.87 67.94,788.01 68.46,788.14 68.97,788.26 69.48,788.36 69.99,788.46 70.50,788.54 70.50,788.54 70.50,766.60 71.00,767.97 71.50,769.25 72.01,770.46 72.51,771.59 73.01,772.66 73.51,773.66 74.02,774.60 74.52,775.49 75.02,776.32 75.52,777.10 76.02,777.84 76.53,778.53 77.03,779.18 77.53,779.79 78.03,780.36 78.53,780.90 79.04,781.40 79.54,781.88 80.04,782.33 80.54,782.75 81.05,783.14 81.55,783.51 82.05,783.86 82.55,784.19 83.05,784.50 83.56,784.78 84.06,785.06 84.56,785.31 85.06,785.55 85.57,785.78 86.07,785.99 86.57,786.19 87.07,786.38 87.57,786.55 88.08,786.72 88.58,786.87 89.08,787.02 89.58,787.16 90.08,787.29 90.59,787.41 91.09,787.52 91.59,787.63 92.09,787.73 92.60,787.82 93.10,787.91 93.60,788.00 93.60,788.00 93.60,769.00 94.11,771.70 94.63,774.05 95.14,776.08 95.66,777.84 96.17,779.36 96.69,780.69 97.20,781.83 97.72,782.83 98.23,783.69 98.75,784.44 99.27,785.08 99.78,785.64 100.30,786.13 100.81,786.55 101.33,786.92 101.84,787.24 102.36,787.51 102.87,787.75 103.39,787.96 103.90,788.13 103.90,788.13 103.90,765.90 104.42,769.52 104.94,772.58 105.45,775.17 105.97,777.35 106.49,779.20 107.01,780.76 107.52,782.08 108.04,783.20 108.56,784.14 109.08,784.94 109.59,785.62 110.11,786.19 110.63,786.67 111.15,787.07 111.66,787.42 112.18,787.71 112.70,787.96 112.70,787.96 112.70,763.70 113.21,768.43 113.73,772.28 114.24,775.42 114.76,777.98 115.27,780.07 115.79,781.78 116.30,783.16 116.81,784.30 117.33,785.22 117.84,785.97 118.36,786.59 118.87,787.09 119.39,787.50 119.90,787.83 119.90,787.83 119.90,755.90 120.43,762.98 120.97,768.55 121.50,772.95 122.03,776.41 122.57,779.14 123.10,781.30 123.63,782.99 124.17,784.33 124.70,785.38 125.23,786.21 125.77,786.87 126.30,787.38 126.30,787.38 126.30,752.30 126.80,760.14 127.30,766.32 127.80,771.19 128.30,775.02 128.80,778.05 129.30,780.43 129.80,782.31 130.30,783.79 130.80,784.96 131.30,785.88 131.80,786.60 132.30,787.17 132.30,787.17 132.30,742.80 132.84,754.36 133.38,763.04 133.92,769.57 134.46,774.47 135.00,778.16 135.54,780.93 136.08,783.01 136.62,784.57 137.16,785.75 137.70,786.63 137.70,786.63 137.70,736.30 138.21,754.06 138.73,765.87 139.24,773.72 139.76,778.94 140.27,782.41 140.79,784.72 141.30,786.26 141.30,786.26 141.30,732.00 141.80,761.25 142.30,775.57" fill="none" stroke="#88c2ea" stroke-width="1.2" stroke-linejoin="round"/>
<polyline points="141.80,761.25 142.30,775.57 142.80,782.58 143.30,786.01 143.30,786.01 143.30,729.20 143.84,746.24 144.38,758.44 144.91,767.19 145.45,773.46 145.45,773.46 145.45,727.04 145.99,744.69 146.53,757.34 147.06,766.40 147.60,772.89 147.60,772.89 147.60,725.25 148.14,743.41 148.68,756.42 149.21,765.74 149.75,772.42 149.75,772.42 149.75,723.77 150.29,742.34 150.83,755.65 151.36,765.19 151.90,772.03 151.90,772.03 151.90,722.27 152.44,741.27 152.98,754.88 153.51,764.64 154.05,771.63 154.05,771.63 154.05,720.49 154.59,739.99 155.13,753.97 155.66,763.99 156.20,771.16 156.20,771.16 156.20,718.10 156.74,738.28 157.28,752.74 157.81,763.11 158.35,770.53 158.35,770.53 158.35,715.23 158.89,736.23 159.43,751.27 159.96,762.05 160.50,769.78 160.50,769.78 160.50,713.00 161.04,734.63 161.58,750.13 162.11,761.23 162.65,769.19 162.65,769.19 162.65,711.00 163.19,733.20 163.73,749.10 164.26,760.50 164.80,768.66 164.80,768.66 164.80,709.57 165.34,732.17 165.88,748.36 166.41,759.97 166.95,768.28 166.95,768.28 166.95,708.48 167.49,731.39 168.03,747.81 168.56,759.57 169.10,768.00 169.10,768.00 169.10,707.71 169.64,730.84 170.18,747.41 170.71,759.28 171.25,767.79 171.25,767.79 171.25,707.37 171.79,730.60 172.33,747.24 172.86,759.16 173.40,767.70 173.40,767.70 173.40,707.86 173.94,730.95 174.48,747.49 175.01,759.34 175.55,767.83 175.55,767.83 175.55,708.47 176.09,731.38 176.63,747.80 177.16,759.56 177.70,767.99 177.70,767.99 177.70,709.90 178.24,732.41 178.78,748.53 179.31,760.09 179.85,768.37 179.85,768.37 179.85,711.03 180.39,733.21 180.93,749.11 181.46,760.50 182.00,768.67 182.00,768.67 182.00,711.76 182.54,733.74 183.08,749.49 183.61,760.78 184.15,768.86 184.15,768.86 184.15,714.23 184.69,735.51 185.23,750.76 185.76,761.68 186.30,769.51 186.30,769.51 186.30,717.59 186.84,737.92 187.38,752.48 187.91,762.92 188.45,770.40 188.45,770.40 188.45,723.98 188.99,742.50 189.53,755.76 190.06,765.27 190.60,772.08 190.60,772.08 190.60,730.20 191.14,746.95 191.68,758.96 192.21,767.56 192.75,773.72 192.75,773.72 192.75,736.39 193.29,751.39 193.83,762.14 194.36,769.84 194.90,775.35 194.90,775.35 194.90,744.90 195.44,757.49 195.98,766.51 196.51,772.97 197.05,777.60 197.05,777.60 197.05,750.32 197.59,761.37 198.13,769.29 198.66,774.96 199.20,779.02 199.20,779.02 199.20,756.30 199.74,765.65 200.28,772.36 200.81,777.16 201.35,780.60 201.35,780.60 201.35,762.75 201.89,770.28 202.43,775.67 202.96,779.53 203.50,782.30 203.50,782.30 203.50,766.12 204.04,772.69 204.58,777.40 205.11,780.77 205.65,783.19 205.65,783.19 205.65,766.93 206.19,773.27 206.73,777.81 207.26,781.07 207.80,783.40 207.80,783.40 207.80,767.21 208.34,773.47 208.88,777.96 209.41,781.17 209.95,783.48 209.95,783.48 209.95,767.49 210.49,773.67 211.03,778.10 211.56,781.28 212.10,783.55 212.10,783.55 212.10,767.60 212.64,773.75 213.18,778.16 213.71,781.32 214.25,783.58 214.25,783.58 214.25,767.71 214.79,773.83 215.33,778.21 215.86,781.36 216.40,783.61 216.40,783.61 216.40,767.81 217.00,772.84 217.60,776.69 218.20,779.64 218.80,781.90 219.40,783.64" fill="none" stroke="#88c2ea" stroke-width="0.6" stroke-linejoin="round"/>
<line x1="49.60" y1="794.80" x2="56.70" y2="794.80" stroke="#88c2ea" stroke-width="1" />
<polyline points="49.30,795.00 50.20,775.00 51.50,755.00 53.50,738.00 55.50,724.00 56.70,717.70 70.50,717.14 70.50,714.00 93.60,713.95 93.60,713.70 103.90,713.17 103.90,710.19 112.70,709.89 112.70,708.20 119.90,707.89 119.90,706.12 126.30,705.87 126.30,704.48 132.30,704.23 132.30,702.83 137.70,702.55 137.70,701.00 141.30,700.68 141.30,698.90 143.30,698.73 143.30,697.73 145.45,697.53 145.45,696.35 147.60,696.09 147.60,694.59 149.75,694.33 149.75,692.84 151.90,692.57 151.90,691.08 154.05,690.79 154.05,689.12 156.20,688.83 156.20,687.15 158.35,686.85 158.35,685.18 160.50,684.88 160.50,683.17 162.65,682.87 162.65,681.14 164.80,680.84 164.80,679.12 166.95,678.82 166.95,677.12 169.10,676.84 169.10,675.21 171.25,674.92 171.25,673.30 173.40,673.01 173.40,671.39 175.55,671.12 175.55,669.57 177.70,669.30 177.70,667.75 179.85,667.48 179.85,665.93 182.00,665.73 182.00,664.60 184.15,664.44 184.15,663.52 186.30,663.36 186.30,662.45 188.45,662.28 188.45,661.31 190.60,661.12 190.60,660.02 192.75,659.83 192.75,658.73 194.90,658.44 194.90,656.78 197.05,656.39 197.05,654.19 199.20,653.80 199.20,651.60 201.35,651.22 201.35,649.07 203.50,648.70 203.50,646.57 205.65,646.19 205.65,644.06 207.80,643.70 207.80,641.70 209.95,641.38 209.95,639.55 212.10,639.23 212.10,637.40 214.25,637.19 214.25,636.01 216.40,635.85 216.40,634.98 219.30,634.78 219.30,633.60" fill="none" stroke="#2b2f9a" stroke-width="1.5" stroke-linejoin="round"/>
<line x1="49.10" y1="623.05" x2="49.10" y2="796.35" stroke="#111" stroke-width="1.5" />
<line x1="223.60" y1="623.05" x2="223.60" y2="796.35" stroke="#111" stroke-width="1.5" />
<line x1="48.35" y1="623.80" x2="224.35" y2="623.80" stroke="#111" stroke-width="1.5" />
<line x1="48.35" y1="795.60" x2="224.35" y2="795.60" stroke="#111" stroke-width="1.5" />
<line x1="49.10" y1="795.60" x2="45.10" y2="795.60" stroke="#111" stroke-width="1.2" />
<line x1="49.10" y1="757.50" x2="45.10" y2="757.50" stroke="#111" stroke-width="1.2" />
<line x1="49.10" y1="719.40" x2="45.10" y2="719.40" stroke="#111" stroke-width="1.2" />
<line x1="49.10" y1="681.30" x2="45.10" y2="681.30" stroke="#111" stroke-width="1.2" />
<line x1="49.10" y1="643.20" x2="45.10" y2="643.20" stroke="#111" stroke-width="1.2" />
<line x1="49.10" y1="776.55" x2="46.60" y2="776.55" stroke="#111" stroke-width="1.2" />
<line x1="49.10" y1="738.45" x2="46.60" y2="738.45" stroke="#111" stroke-width="1.2" />
<line x1="49.10" y1="700.35" x2="46.60" y2="700.35" stroke="#111" stroke-width="1.2" />
<line x1="49.10" y1="662.25" x2="46.60" y2="662.25" stroke="#111" stroke-width="1.2" />
<line x1="223.60" y1="795.60" x2="227.60" y2="795.60" stroke="#111" stroke-width="1.2" />
<line x1="223.60" y1="757.50" x2="227.60" y2="757.50" stroke="#111" stroke-width="1.2" />
<line x1="223.60" y1="719.40" x2="227.60" y2="719.40" stroke="#111" stroke-width="1.2" />
<line x1="223.60" y1="681.30" x2="227.60" y2="681.30" stroke="#111" stroke-width="1.2" />
<line x1="223.60" y1="643.20" x2="227.60" y2="643.20" stroke="#111" stroke-width="1.2" />
<line x1="223.60" y1="776.55" x2="226.10" y2="776.55" stroke="#111" stroke-width="1.2" />
<line x1="223.60" y1="738.45" x2="226.10" y2="738.45" stroke="#111" stroke-width="1.2" />
<line x1="223.60" y1="700.35" x2="226.10" y2="700.35" stroke="#111" stroke-width="1.2" />
<line x1="223.60" y1="662.25" x2="226.10" y2="662.25" stroke="#111" stroke-width="1.2" />
<line x1="49.10" y1="795.60" x2="49.10" y2="799.60" stroke="#111" stroke-width="1.2" />
<line x1="98.70" y1="795.60" x2="98.70" y2="799.60" stroke="#111" stroke-width="1.2" />
<line x1="148.30" y1="795.60" x2="148.30" y2="799.60" stroke="#111" stroke-width="1.2" />
<line x1="197.90" y1="795.60" x2="197.90" y2="799.60" stroke="#111" stroke-width="1.2" />
<line x1="73.90" y1="795.60" x2="73.90" y2="798.10" stroke="#111" stroke-width="1.2" />
<line x1="123.50" y1="795.60" x2="123.50" y2="798.10" stroke="#111" stroke-width="1.2" />
<line x1="173.10" y1="795.60" x2="173.10" y2="798.10" stroke="#111" stroke-width="1.2" />
<line x1="222.70" y1="795.60" x2="222.70" y2="798.10" stroke="#111" stroke-width="1.2" />
<text x="40.10" y="799.00" font-size="10.2" text-anchor="end" font-weight="bold" fill="#111" stroke="#111" stroke-width="0.3">0.00</text>
<text x="40.10" y="760.90" font-size="10.2" text-anchor="end" font-weight="bold" fill="#111" stroke="#111" stroke-width="0.3">0.06</text>
<text x="40.10" y="722.80" font-size="10.2" text-anchor="end" font-weight="bold" fill="#111" stroke="#111" stroke-width="0.3">0.12</text>
<text x="40.10" y="684.70" font-size="10.2" text-anchor="end" font-weight="bold" fill="#111" stroke="#111" stroke-width="0.3">0.18</text>
<text x="40.10" y="646.60" font-size="10.2" text-anchor="end" font-weight="bold" fill="#111" stroke="#111" stroke-width="0.3">0.24</text>
<text x="231.60" y="799.00" font-size="10.2" text-anchor="start" font-weight="bold" fill="#111" stroke="#111" stroke-width="0.3">2.8</text>
<text x="231.60" y="760.90" font-size="10.2" text-anchor="start" font-weight="bold" fill="#111" stroke="#111" stroke-width="0.3">3.2</text>
<text x="231.60" y="722.80" font-size="10.2" text-anchor="start" font-weight="bold" fill="#111" stroke="#111" stroke-width="0.3">3.6</text>
<text x="231.60" y="684.70" font-size="10.2" text-anchor="start" font-weight="bold" fill="#111" stroke="#111" stroke-width="0.3">4.0</text>
<text x="231.60" y="646.60" font-size="10.2" text-anchor="start" font-weight="bold" fill="#111" stroke="#111" stroke-width="0.3">4.4</text>
<text x="49.10" y="812.50" font-size="10.2" text-anchor="middle" font-weight="bold" fill="#111" stroke="#111" stroke-width="0.3">0</text>
<text x="98.70" y="812.50" font-size="10.2" text-anchor="middle" font-weight="bold" fill="#111" stroke="#111" stroke-width="0.3">20000</text>
<text x="148.30" y="812.50" font-size="10.2" text-anchor="middle" font-weight="bold" fill="#111" stroke="#111" stroke-width="0.3">40000</text>
<text x="197.90" y="812.50" font-size="10.2" text-anchor="middle" font-weight="bold" fill="#111" stroke="#111" stroke-width="0.3">60000</text>
<text x="136.35" y="829.00" font-size="14.3" text-anchor="middle" font-weight="bold" fill="#111" stroke="#111" stroke-width="0.3">Time (s)</text>
<text x="14.10" y="709.00" font-size="14.2" text-anchor="middle" font-weight="bold" fill="#111" transform="rotate(-90 14.10 709.00)" stroke="#111" stroke-width="0.3">Current (mA)</text>
<text x="261.60" y="709.50" font-size="14.2" text-anchor="middle" font-weight="bold" fill="#111" transform="rotate(-90 261.60 709.50)" stroke="#111" stroke-width="0.3">Voltage (V)</text>
<text x="56.20" y="643.70" font-size="13.7" text-anchor="start" font-weight="bold" fill="#111" stroke="#111" stroke-width="0.3">W-0</text>
<line x1="186.00" y1="682.50" x2="212.00" y2="682.50" stroke="#111" stroke-width="1.8" />
<path d="M210,678.3 L221,682.5 L210,686.7 Z" fill="#111"/>
<text x="2.50" y="633.10" font-size="21.2" text-anchor="start" font-weight="bold" fill="#111" stroke="#111" stroke-width="0.55">(i)</text>
<clipPath id="pjc"><rect x="399" y="623.8" width="88.89999999999998" height="171.80000000000007"/></clipPath>
<path d="M317.90,788.20 L317.90,782.60 L318.42,783.88 L318.94,784.87 L319.45,785.63 L319.97,786.22 L320.49,786.67 L321.01,787.02 L321.53,787.29 L322.05,787.50 L322.56,787.66 L323.08,787.78 L323.60,787.88 L323.60,787.88 L323.60,779.90 L324.11,781.06 L324.62,782.06 L325.13,782.91 L325.64,783.65 L326.15,784.29 L326.66,784.83 L327.17,785.30 L327.68,785.71 L328.19,786.06 L328.71,786.35 L329.22,786.61 L329.73,786.83 L330.24,787.02 L330.75,787.19 L331.26,787.33 L331.77,787.45 L332.28,787.56 L332.79,787.65 L333.30,787.72 L333.30,787.72 L333.30,775.80 L333.80,777.00 L334.30,778.09 L334.80,779.07 L335.30,779.96 L335.80,780.76 L336.30,781.48 L336.80,782.13 L337.30,782.72 L337.80,783.25 L338.30,783.73 L338.80,784.16 L339.30,784.56 L339.80,784.91 L340.30,785.23 L340.80,785.52 L341.30,785.78 L341.80,786.01 L342.30,786.22 L342.80,786.42 L343.30,786.59 L343.80,786.75 L344.30,786.89 L344.80,787.01 L345.30,787.13 L345.80,787.23 L346.30,787.33 L346.80,787.41 L347.30,787.49 L347.30,787.49 L347.30,771.80 L347.81,773.39 L348.31,774.83 L348.82,776.12 L349.33,777.30 L349.84,778.35 L350.34,779.31 L350.85,780.17 L351.36,780.95 L351.86,781.65 L352.37,782.29 L352.88,782.86 L353.39,783.38 L353.89,783.85 L354.40,784.27 L354.91,784.65 L355.41,785.00 L355.92,785.31 L356.43,785.59 L356.94,785.84 L357.44,786.07 L357.95,786.28 L358.46,786.46 L358.96,786.63 L359.47,786.78 L359.98,786.92 L360.49,787.04 L360.99,787.16 L361.50,787.26 L361.50,787.26 L361.50,764.10 L362.00,767.64 L362.50,770.66 L363.00,773.23 L363.50,775.43 L364.00,777.30 L364.50,778.90 L365.00,780.27 L365.50,781.43 L366.00,782.42 L366.50,783.27 L367.00,784.00 L367.50,784.61 L368.00,785.14 L368.50,785.59 L369.00,785.97 L369.50,786.30 L370.00,786.58 L370.50,786.82 L370.50,786.82 L370.50,761.10 L371.02,766.10 L371.54,770.18 L372.06,773.51 L372.59,776.22 L373.11,778.43 L373.63,780.24 L374.15,781.71 L374.67,782.90 L375.19,783.88 L375.71,784.68 L376.24,785.33 L376.76,785.86 L377.28,786.29 L377.80,786.64 L377.80,786.64 L377.80,756.60 L378.31,763.83 L378.82,769.40 L379.33,773.70 L379.84,777.02 L380.35,779.58 L380.85,781.55 L381.36,783.07 L381.87,784.24 L382.38,785.15 L382.89,785.85 L383.40,786.39 L383.40,786.39 L383.40,747.60 L383.91,756.89 L384.42,764.05 L384.93,769.57 L385.44,773.83 L385.95,777.12 L386.45,779.66 L386.96,781.61 L387.47,783.12 L387.98,784.28 L388.49,785.18 L389.00,785.87 L389.00,785.87 L389.00,746.50 L389.50,756.86 L390.00,764.65 L390.50,770.50 L391.00,774.90 L391.50,778.21 L392.00,780.69 L392.50,782.56 L393.00,783.96 L393.50,785.01 L394.00,785.81 L394.00,785.81 L394.00,737.40 L394.51,754.42 L395.03,765.74 L395.54,773.27 L396.06,778.27 L396.57,781.60 L397.09,783.81 L397.60,785.28 L397.60,785.28 L397.60,728.40 L398.14,754.43 L398.68,769.13 L399.22,777.43 L399.76,782.12 L400.30,784.77 L400.30,784.77 L400.30,722.80 L400.83,756.18 L401.35,772.53 L401.88,780.53 L402.40,784.44 L402.40,784.44 L402.40,720.25 L402.93,739.51 L403.45,753.31 L403.98,763.20 L404.50,770.29 L404.50,770.29 L404.50,717.71 L405.03,737.69 L405.55,752.01 L406.08,762.27 L406.60,769.62 L406.60,769.62 L406.60,715.61 L407.13,736.19 L407.65,750.93 L408.18,761.50 L408.70,769.07 L408.70,769.07 L408.70,713.65 L409.23,734.78 L409.75,749.93 L410.28,760.78 L410.80,768.55 L410.80,768.55 L410.80,712.16 L411.33,733.71 L411.85,749.16 L412.38,760.23 L412.90,768.16 L412.90,768.16 L412.90,710.90 L413.43,732.81 L413.95,748.51 L414.48,759.76 L415.00,767.82 L415.00,767.82 L415.00,709.86 L415.53,732.07 L416.05,747.98 L416.58,759.38 L417.10,767.55 L417.10,767.55 L417.10,709.02 L417.63,731.47 L418.15,747.55 L418.68,759.07 L419.20,767.33 L419.20,767.33 L419.20,708.43 L419.73,731.04 L420.25,747.24 L420.78,758.85 L421.30,767.17 L421.30,767.17 L421.30,708.24 L421.83,730.91 L422.35,747.15 L422.88,758.79 L423.40,767.12 L423.40,767.12 L423.40,708.14 L423.93,730.84 L424.45,747.10 L424.98,758.75 L425.50,767.10 L425.50,767.10 L425.50,708.33 L426.03,730.97 L426.55,747.19 L427.08,758.82 L427.60,767.15 L427.60,767.15 L427.60,708.53 L428.13,731.11 L428.65,747.30 L429.18,758.89 L429.70,767.20 L429.70,767.20 L429.70,708.85 L430.23,731.34 L430.75,747.46 L431.28,759.01 L431.80,767.28 L431.80,767.28 L431.80,709.17 L432.33,731.57 L432.85,747.62 L433.38,759.13 L433.90,767.37 L433.90,767.37 L433.90,711.16 L434.43,733.00 L434.95,748.65 L435.48,759.86 L436.00,767.89 L436.00,767.89 L436.00,713.63 L436.53,734.77 L437.05,749.92 L437.58,760.77 L438.10,768.54 L438.10,768.54 L438.10,716.74 L438.63,737.00 L439.15,751.51 L439.68,761.91 L440.20,769.36 L440.20,769.36 L440.20,720.43 L440.73,739.64 L441.25,753.40 L441.78,763.27 L442.30,770.34 L442.30,770.34 L442.30,727.62 L442.83,744.79 L443.35,757.10 L443.88,765.91 L444.40,772.23 L444.40,772.23 L444.40,733.06 L444.93,748.69 L445.45,759.89 L445.98,767.92 L446.50,773.67 L446.50,773.67 L446.50,737.20 L447.03,751.66 L447.55,762.02 L448.08,769.44 L448.60,774.76 L448.60,774.76 L448.60,745.40 L449.13,757.53 L449.65,766.23 L450.18,772.45 L450.70,776.92 L450.70,776.92 L450.70,752.76 L451.23,762.80 L451.75,770.00 L452.28,775.16 L452.80,778.86 L452.80,778.86 L452.80,758.03 L453.33,766.58 L453.85,772.71 L454.38,777.10 L454.90,780.25 L454.90,780.25 L454.90,762.88 L455.43,770.06 L455.95,775.20 L456.48,778.89 L457.00,781.53 L457.00,781.53 L457.00,765.94 L457.53,772.25 L458.05,776.77 L458.58,780.01 L459.10,782.33 L459.10,782.33 L459.10,769.00 L459.63,774.44 L460.15,778.34 L460.68,781.14 L461.20,783.14 L461.20,783.14 L461.20,771.15 L461.73,775.98 L462.25,779.44 L462.78,781.93 L463.30,783.70 L463.30,783.70 L463.30,773.29 L463.83,777.52 L464.35,780.55 L464.88,782.72 L465.40,784.27 L465.40,784.27 L465.40,774.76 L465.93,778.57 L466.45,781.30 L466.98,783.26 L467.50,784.66 L467.50,784.66 L467.50,776.11 L467.70,779.54 L467.90,781.99 L468.10,783.75 L468.30,785.01 L468.30,788.20 L317.90,788.20 Z" fill="#f6a6a6" stroke="none" clip-path="url(#pjc)"/>
<polyline points="317.90,788.20 317.90,782.60 318.42,783.88 318.94,784.87 319.45,785.63 319.97,786.22 320.49,786.67 321.01,787.02 321.53,787.29 322.05,787.50 322.56,787.66 323.08,787.78 323.60,787.88 323.60,787.88 323.60,779.90 324.11,781.06 324.62,782.06 325.13,782.91 325.64,783.65 326.15,784.29 326.66,784.83 327.17,785.30 327.68,785.71 328.19,786.06 328.71,786.35 329.22,786.61 329.73,786.83 330.24,787.02 330.75,787.19 331.26,787.33 331.77,787.45 332.28,787.56 332.79,787.65 333.30,787.72 333.30,787.72 333.30,775.80 333.80,777.00 334.30,778.09 334.80,779.07 335.30,779.96 335.80,780.76 336.30,781.48 336.80,782.13 337.30,782.72 337.80,783.25 338.30,783.73 338.80,784.16 339.30,784.56 339.80,784.91 340.30,785.23 340.80,785.52 341.30,785.78 341.80,786.01 342.30,786.22 342.80,786.42 343.30,786.59 343.80,786.75 344.30,786.89 344.80,787.01 345.30,787.13 345.80,787.23 346.30,787.33 346.80,787.41 347.30,787.49 347.30,787.49 347.30,771.80 347.81,773.39 348.31,774.83 348.82,776.12 349.33,777.30 349.84,778.35 350.34,779.31 350.85,780.17 351.36,780.95 351.86,781.65 352.37,782.29 352.88,782.86 353.39,783.38 353.89,783.85 354.40,784.27 354.91,784.65 355.41,785.00 355.92,785.31 356.43,785.59 356.94,785.84 357.44,786.07 357.95,786.28 358.46,786.46 358.96,786.63 359.47,786.78 359.98,786.92 360.49,787.04 360.99,787.16 361.50,787.26 361.50,787.26 361.50,764.10 362.00,767.64 362.50,770.66 363.00,773.23 363.50,775.43 364.00,777.30 364.50,778.90 365.00,780.27 365.50,781.43 366.00,782.42 366.50,783.27 367.00,784.00 367.50,784.61 368.00,785.14 368.50,785.59 369.00,785.97 369.50,786.30 370.00,786.58 370.50,786.82 370.50,786.82 370.50,761.10 371.02,766.10 371.54,770.18 372.06,773.51 372.59,776.22 373.11,778.43 373.63,780.24 374.15,781.71 374.67,782.90 375.19,783.88 375.71,784.68 376.24,785.33 376.76,785.86 377.28,786.29 377.80,786.64 377.80,786.64 377.80,756.60 378.31,763.83 378.82,769.40 379.33,773.70 379.84,777.02 380.35,779.58 380.85,781.55 381.36,783.07 381.87,784.24 382.38,785.15 382.89,785.85 383.40,786.39 383.40,786.39 383.40,747.60 383.91,756.89 384.42,764.05 384.93,769.57 385.44,773.83 385.95,777.12 386.45,779.66 386.96,781.61 387.47,783.12 387.98,784.28 388.49,785.18 389.00,785.87 389.00,785.87 389.00,746.50 389.50,756.86 390.00,764.65 390.50,770.50 391.00,774.90 391.50,778.21 392.00,780.69 392.50,782.56 393.00,783.96 393.50,785.01 394.00,785.81 394.00,785.81 394.00,737.40 394.51,754.42 395.03,765.74 395.54,773.27 396.06,778.27 396.57,781.60 397.09,783.81 397.60,785.28 397.60,785.28 397.60,728.40 398.14,754.43 398.68,769.13 399.22,777.43 399.76,782.12 400.30,784.77 400.30,784.77 400.30,722.80 400.83,756.18 401.35,772.53" fill="none" stroke="#ee9898" stroke-width="1.2" stroke-linejoin="round"/>
<polyline points="400.83,756.18 401.35,772.53 401.88,780.53 402.40,784.44 402.40,784.44 402.40,720.25 402.93,739.51 403.45,753.31 403.98,763.20 404.50,770.29 404.50,770.29 404.50,717.71 405.03,737.69 405.55,752.01 406.08,762.27 406.60,769.62 406.60,769.62 406.60,715.61 407.13,736.19 407.65,750.93 408.18,761.50 408.70,769.07 408.70,769.07 408.70,713.65 409.23,734.78 409.75,749.93 410.28,760.78 410.80,768.55 410.80,768.55 410.80,712.16 411.33,733.71 411.85,749.16 412.38,760.23 412.90,768.16 412.90,768.16 412.90,710.90 413.43,732.81 413.95,748.51 414.48,759.76 415.00,767.82 415.00,767.82 415.00,709.86 415.53,732.07 416.05,747.98 416.58,759.38 417.10,767.55 417.10,767.55 417.10,709.02 417.63,731.47 418.15,747.55 418.68,759.07 419.20,767.33 419.20,767.33 419.20,708.43 419.73,731.04 420.25,747.24 420.78,758.85 421.30,767.17 421.30,767.17 421.30,708.24 421.83,730.91 422.35,747.15 422.88,758.79 423.40,767.12 423.40,767.12 423.40,708.14 423.93,730.84 424.45,747.10 424.98,758.75 425.50,767.10 425.50,767.10 425.50,708.33 426.03,730.97 426.55,747.19 427.08,758.82 427.60,767.15 427.60,767.15 427.60,708.53 428.13,731.11 428.65,747.30 429.18,758.89 429.70,767.20 429.70,767.20 429.70,708.85 430.23,731.34 430.75,747.46 431.28,759.01 431.80,767.28 431.80,767.28 431.80,709.17 432.33,731.57 432.85,747.62 433.38,759.13 433.90,767.37 433.90,767.37 433.90,711.16 434.43,733.00 434.95,748.65 435.48,759.86 436.00,767.89 436.00,767.89 436.00,713.63 436.53,734.77 437.05,749.92 437.58,760.77 438.10,768.54 438.10,768.54 438.10,716.74 438.63,737.00 439.15,751.51 439.68,761.91 440.20,769.36 440.20,769.36 440.20,720.43 440.73,739.64 441.25,753.40 441.78,763.27 442.30,770.34 442.30,770.34 442.30,727.62 442.83,744.79 443.35,757.10 443.88,765.91 444.40,772.23 444.40,772.23 444.40,733.06 444.93,748.69 445.45,759.89 445.98,767.92 446.50,773.67 446.50,773.67 446.50,737.20 447.03,751.66 447.55,762.02 448.08,769.44 448.60,774.76 448.60,774.76 448.60,745.40 449.13,757.53 449.65,766.23 450.18,772.45 450.70,776.92 450.70,776.92 450.70,752.76 451.23,762.80 451.75,770.00 452.28,775.16 452.80,778.86 452.80,778.86 452.80,758.03 453.33,766.58 453.85,772.71 454.38,777.10 454.90,780.25 454.90,780.25 454.90,762.88 455.43,770.06 455.95,775.20 456.48,778.89 457.00,781.53 457.00,781.53 457.00,765.94 457.53,772.25 458.05,776.77 458.58,780.01 459.10,782.33 459.10,782.33 459.10,769.00 459.63,774.44 460.15,778.34 460.68,781.14 461.20,783.14 461.20,783.14 461.20,771.15 461.73,775.98 462.25,779.44 462.78,781.93 463.30,783.70 463.30,783.70 463.30,773.29 463.83,777.52 464.35,780.55 464.88,782.72 465.40,784.27 465.40,784.27 465.40,774.76 465.93,778.57 466.45,781.30 466.98,783.26 467.50,784.66 467.50,784.66 467.50,776.11 467.70,779.54 467.90,781.99 468.10,783.75 468.30,785.01" fill="none" stroke="#ee9898" stroke-width="0.6" stroke-linejoin="round"/>
<line x1="315.10" y1="794.80" x2="317.90" y2="794.80" stroke="#ee9898" stroke-width="1" />
<polyline points="314.60,751.00 315.00,735.00 315.60,722.00 317.90,720.24 323.60,719.85 323.60,717.60 333.30,717.45 333.30,716.58 347.30,716.23 347.30,714.23 361.50,713.92 361.50,712.16 370.50,711.86 370.50,710.14 377.80,709.89 377.80,708.47 383.40,708.24 383.40,706.94 389.00,706.71 389.00,705.40 394.00,705.01 394.00,702.79 397.60,702.51 397.60,700.91 400.30,700.70 400.30,699.50 402.40,699.22 402.40,697.62 404.50,697.33 404.50,695.73 406.60,695.45 406.60,693.85 408.70,693.57 408.70,692.00 410.80,691.72 410.80,690.15 412.90,689.88 412.90,688.31 415.00,688.03 415.00,686.47 417.10,686.17 417.10,684.51 419.20,684.20 419.20,682.43 421.30,682.12 421.30,680.36 423.40,680.05 423.40,678.28 425.50,677.96 425.50,676.16 427.60,675.80 427.60,673.78 429.70,673.42 429.70,671.40 431.80,671.04 431.80,669.02 433.90,668.66 433.90,666.64 436.00,666.41 436.00,665.08 438.10,664.87 438.10,663.66 440.20,663.44 440.20,662.23 442.30,662.02 442.30,660.81 444.40,660.56 444.40,659.13 446.50,658.85 446.50,657.26 448.60,656.92 448.60,655.03 450.70,654.60 450.70,652.20 452.80,651.78 452.80,649.38 454.90,648.97 454.90,646.64 457.00,646.27 457.00,644.20 459.10,643.83 459.10,641.76 461.20,641.39 461.20,639.32 463.30,639.03 463.30,637.41 465.40,637.12 465.40,635.52 467.50,635.24 467.50,633.64 468.10,633.56 468.10,633.10" fill="none" stroke="#9c1c1e" stroke-width="1.5" stroke-linejoin="round"/>
<line x1="314.60" y1="623.05" x2="314.60" y2="796.35" stroke="#111" stroke-width="1.5" />
<line x1="487.90" y1="623.05" x2="487.90" y2="796.35" stroke="#111" stroke-width="1.5" />
<line x1="313.85" y1="623.80" x2="488.65" y2="623.80" stroke="#111" stroke-width="1.5" />
<line x1="313.85" y1="795.60" x2="488.65" y2="795.60" stroke="#111" stroke-width="1.5" />
<line x1="314.60" y1="795.60" x2="310.60" y2="795.60" stroke="#111" stroke-width="1.2" />
<line x1="314.60" y1="757.50" x2="310.60" y2="757.50" stroke="#111" stroke-width="1.2" />
<line x1="314.60" y1="719.40" x2="310.60" y2="719.40" stroke="#111" stroke-width="1.2" />
<line x1="314.60" y1="681.30" x2="310.60" y2="681.30" stroke="#111" stroke-width="1.2" />
<line x1="314.60" y1="643.20" x2="310.60" y2="643.20" stroke="#111" stroke-width="1.2" />
<line x1="314.60" y1="776.55" x2="312.10" y2="776.55" stroke="#111" stroke-width="1.2" />
<line x1="314.60" y1="738.45" x2="312.10" y2="738.45" stroke="#111" stroke-width="1.2" />
<line x1="314.60" y1="700.35" x2="312.10" y2="700.35" stroke="#111" stroke-width="1.2" />
<line x1="314.60" y1="662.25" x2="312.10" y2="662.25" stroke="#111" stroke-width="1.2" />
<line x1="487.90" y1="795.60" x2="491.90" y2="795.60" stroke="#111" stroke-width="1.2" />
<line x1="487.90" y1="757.50" x2="491.90" y2="757.50" stroke="#111" stroke-width="1.2" />
<line x1="487.90" y1="719.40" x2="491.90" y2="719.40" stroke="#111" stroke-width="1.2" />
<line x1="487.90" y1="681.30" x2="491.90" y2="681.30" stroke="#111" stroke-width="1.2" />
<line x1="487.90" y1="643.20" x2="491.90" y2="643.20" stroke="#111" stroke-width="1.2" />
<line x1="487.90" y1="776.55" x2="490.40" y2="776.55" stroke="#111" stroke-width="1.2" />
<line x1="487.90" y1="738.45" x2="490.40" y2="738.45" stroke="#111" stroke-width="1.2" />
<line x1="487.90" y1="700.35" x2="490.40" y2="700.35" stroke="#111" stroke-width="1.2" />
<line x1="487.90" y1="662.25" x2="490.40" y2="662.25" stroke="#111" stroke-width="1.2" />
<line x1="315.10" y1="795.60" x2="315.10" y2="799.60" stroke="#111" stroke-width="1.2" />
<line x1="364.50" y1="795.60" x2="364.50" y2="799.60" stroke="#111" stroke-width="1.2" />
<line x1="413.90" y1="795.60" x2="413.90" y2="799.60" stroke="#111" stroke-width="1.2" />
<line x1="463.30" y1="795.60" x2="463.30" y2="799.60" stroke="#111" stroke-width="1.2" />
<line x1="339.80" y1="795.60" x2="339.80" y2="798.10" stroke="#111" stroke-width="1.2" />
<line x1="389.20" y1="795.60" x2="389.20" y2="798.10" stroke="#111" stroke-width="1.2" />
<line x1="438.60" y1="795.60" x2="438.60" y2="798.10" stroke="#111" stroke-width="1.2" />
<text x="305.60" y="799.00" font-size="10.2" text-anchor="end" font-weight="bold" fill="#111" stroke="#111" stroke-width="0.3">0.00</text>
<text x="305.60" y="760.90" font-size="10.2" text-anchor="end" font-weight="bold" fill="#111" stroke="#111" stroke-width="0.3">0.06</text>
<text x="305.60" y="722.80" font-size="10.2" text-anchor="end" font-weight="bold" fill="#111" stroke="#111" stroke-width="0.3">0.12</text>
<text x="305.60" y="684.70" font-size="10.2" text-anchor="end" font-weight="bold" fill="#111" stroke="#111" stroke-width="0.3">0.18</text>
<text x="305.60" y="646.60" font-size="10.2" text-anchor="end" font-weight="bold" fill="#111" stroke="#111" stroke-width="0.3">0.24</text>
<text x="495.90" y="799.00" font-size="10.2" text-anchor="start" font-weight="bold" fill="#111" stroke="#111" stroke-width="0.3">2.8</text>
<text x="495.90" y="760.90" font-size="10.2" text-anchor="start" font-weight="bold" fill="#111" stroke="#111" stroke-width="0.3">3.2</text>
<text x="495.90" y="722.80" font-size="10.2" text-anchor="start" font-weight="bold" fill="#111" stroke="#111" stroke-width="0.3">3.6</text>
<text x="495.90" y="684.70" font-size="10.2" text-anchor="start" font-weight="bold" fill="#111" stroke="#111" stroke-width="0.3">4.0</text>
<text x="495.90" y="646.60" font-size="10.2" text-anchor="start" font-weight="bold" fill="#111" stroke="#111" stroke-width="0.3">4.4</text>
<text x="315.10" y="812.50" font-size="10.2" text-anchor="middle" font-weight="bold" fill="#111" stroke="#111" stroke-width="0.3">0</text>
<text x="364.50" y="812.50" font-size="10.2" text-anchor="middle" font-weight="bold" fill="#111" stroke="#111" stroke-width="0.3">20000</text>
<text x="413.90" y="812.50" font-size="10.2" text-anchor="middle" font-weight="bold" fill="#111" stroke="#111" stroke-width="0.3">40000</text>
<text x="463.30" y="812.50" font-size="10.2" text-anchor="middle" font-weight="bold" fill="#111" stroke="#111" stroke-width="0.3">60000</text>
<text x="401.25" y="829.00" font-size="14.3" text-anchor="middle" font-weight="bold" fill="#111" stroke="#111" stroke-width="0.3">Time (s)</text>
<text x="279.60" y="709.00" font-size="14.2" text-anchor="middle" font-weight="bold" fill="#111" transform="rotate(-90 279.60 709.00)" stroke="#111" stroke-width="0.3">Current (mA)</text>
<text x="525.90" y="709.50" font-size="14.2" text-anchor="middle" font-weight="bold" fill="#111" transform="rotate(-90 525.90 709.50)" stroke="#111" stroke-width="0.3">Voltage (V)</text>
<text x="322.40" y="643.70" font-size="13.7" text-anchor="start" font-weight="bold" fill="#111" stroke="#111" stroke-width="0.3">W-0.5</text>
<line x1="448.20" y1="673.10" x2="472.60" y2="673.10" stroke="#111" stroke-width="1.8" />
<path d="M470.6,668.9 L481.6,673.1 L470.6,677.3000000000001 Z" fill="#111"/>
<text x="267.50" y="633.10" font-size="21.2" text-anchor="start" font-weight="bold" fill="#111" stroke="#111" stroke-width="0.55">(j)</text>
<line x1="591.50" y1="622.25" x2="591.50" y2="788.75" stroke="#111" stroke-width="1.5" />
<line x1="792.00" y1="622.25" x2="792.00" y2="788.75" stroke="#111" stroke-width="1.5" />
<line x1="590.75" y1="623.00" x2="792.75" y2="623.00" stroke="#111" stroke-width="1.5" />
<line x1="590.75" y1="788.00" x2="792.75" y2="788.00" stroke="#111" stroke-width="1.5" />
<line x1="601.50" y1="788.00" x2="601.50" y2="792.00" stroke="#111" stroke-width="1.2" />
<line x1="641.40" y1="788.00" x2="641.40" y2="792.00" stroke="#111" stroke-width="1.2" />
<line x1="681.30" y1="788.00" x2="681.30" y2="792.00" stroke="#111" stroke-width="1.2" />
<line x1="721.20" y1="788.00" x2="721.20" y2="792.00" stroke="#111" stroke-width="1.2" />
<line x1="761.10" y1="788.00" x2="761.10" y2="792.00" stroke="#111" stroke-width="1.2" />
<line x1="621.45" y1="788.00" x2="621.45" y2="790.50" stroke="#111" stroke-width="1.2" />
<line x1="661.35" y1="788.00" x2="661.35" y2="790.50" stroke="#111" stroke-width="1.2" />
<line x1="701.25" y1="788.00" x2="701.25" y2="790.50" stroke="#111" stroke-width="1.2" />
<line x1="741.15" y1="788.00" x2="741.15" y2="790.50" stroke="#111" stroke-width="1.2" />
<line x1="781.05" y1="788.00" x2="781.05" y2="790.50" stroke="#111" stroke-width="1.2" />
<line x1="591.50" y1="644.30" x2="587.50" y2="644.30" stroke="#111" stroke-width="1.2" />
<line x1="591.50" y1="687.70" x2="587.50" y2="687.70" stroke="#111" stroke-width="1.2" />
<line x1="591.50" y1="731.10" x2="587.50" y2="731.10" stroke="#111" stroke-width="1.2" />
<line x1="591.50" y1="774.50" x2="587.50" y2="774.50" stroke="#111" stroke-width="1.2" />
<line x1="591.50" y1="666.00" x2="589.00" y2="666.00" stroke="#111" stroke-width="1.2" />
<line x1="591.50" y1="709.40" x2="589.00" y2="709.40" stroke="#111" stroke-width="1.2" />
<line x1="591.50" y1="752.80" x2="589.00" y2="752.80" stroke="#111" stroke-width="1.2" />
<text x="601.50" y="804.00" font-size="10.2" text-anchor="middle" font-weight="bold" fill="#111" stroke="#111" stroke-width="0.3">3.6</text>
<text x="641.40" y="804.00" font-size="10.2" text-anchor="middle" font-weight="bold" fill="#111" stroke="#111" stroke-width="0.3">3.8</text>
<text x="681.30" y="804.00" font-size="10.2" text-anchor="middle" font-weight="bold" fill="#111" stroke="#111" stroke-width="0.3">4.0</text>
<text x="721.20" y="804.00" font-size="10.2" text-anchor="middle" font-weight="bold" fill="#111" stroke="#111" stroke-width="0.3">4.2</text>
<text x="761.10" y="804.00" font-size="10.2" text-anchor="middle" font-weight="bold" fill="#111" stroke="#111" stroke-width="0.3">4.4</text>
<text x="583.20" y="647.70" font-size="10.2" text-anchor="end" font-weight="bold" fill="#111" stroke="#111" stroke-width="0.3">-12.0</text>
<text x="583.20" y="691.10" font-size="10.2" text-anchor="end" font-weight="bold" fill="#111" stroke="#111" stroke-width="0.3">-12.6</text>
<text x="583.20" y="734.50" font-size="10.2" text-anchor="end" font-weight="bold" fill="#111" stroke="#111" stroke-width="0.3">-13.2</text>
<text x="583.20" y="777.90" font-size="10.2" text-anchor="end" font-weight="bold" fill="#111" stroke="#111" stroke-width="0.3">-13.8</text>
<text x="691.50" y="819.50" font-size="14.3" text-anchor="middle" font-weight="bold" fill="#111" stroke="#111" stroke-width="0.3">Voltage (V)</text>
<text x="551.50" y="705.50" font-size="14.2" text-anchor="middle" font-weight="bold" fill="#111" transform="rotate(-90 551.50 705.50)" stroke="#111" stroke-width="0.3">LogD<tspan dy="3.5" font-size="9">Li</tspan><tspan dy="-7" font-size="7">+</tspan><tspan dy="3.5"> (cm</tspan><tspan dy="-5" font-size="9">2</tspan><tspan dy="5">/s)</tspan></text>
<text x="534.50" y="633.10" font-size="21.2" text-anchor="start" font-weight="bold" fill="#111" stroke="#111" stroke-width="0.55">(k)</text>
<polyline points="601.49,674.86 605.75,719.28 609.47,699.60 613.73,712.10 618.25,707.58 622.24,694.28 624.90,688.16 628.89,684.70 632.89,676.72 636.88,669.54 640.87,661.55 644.06,654.37 647.52,648.25 651.51,641.60 655.50,639.47 660.82,636.28 664.81,637.61 670.13,641.07 674.12,636.81 678.11,640.27 682.10,640.27 686.09,638.94 690.08,636.28 694.07,633.62 698.06,634.95 702.05,635.75 706.04,635.75 708.70,640.27 712.16,645.59 715.35,652.24 718.01,656.23 722.00,655.44 725.99,652.24 729.99,648.25 733.98,642.93 737.97,640.27 741.96,641.07 744.62,646.39 748.61,653.57 752.60,649.05 756.59,654.90 760.58,656.23 764.57,664.22 768.56,662.89 772.55,665.01 776.54,668.21 781.33,672.20" fill="none" stroke="#e07070" stroke-width="1.1" stroke-linejoin="round" />
<circle cx="601.49" cy="674.86" r="4.8" fill="url(#grl)"/>
<circle cx="605.75" cy="719.28" r="4.8" fill="url(#grl)"/>
<circle cx="609.47" cy="699.60" r="4.8" fill="url(#grl)"/>
<circle cx="613.73" cy="712.10" r="4.8" fill="url(#grl)"/>
<circle cx="618.25" cy="707.58" r="4.8" fill="url(#grl)"/>
<circle cx="622.24" cy="694.28" r="4.8" fill="url(#grl)"/>
<circle cx="624.90" cy="688.16" r="4.8" fill="url(#grl)"/>
<circle cx="628.89" cy="684.70" r="4.8" fill="url(#grl)"/>
<circle cx="632.89" cy="676.72" r="4.8" fill="url(#grl)"/>
<circle cx="636.88" cy="669.54" r="4.8" fill="url(#grl)"/>
<circle cx="640.87" cy="661.55" r="4.8" fill="url(#grl)"/>
<circle cx="644.06" cy="654.37" r="4.8" fill="url(#grl)"/>
<circle cx="647.52" cy="648.25" r="4.8" fill="url(#grl)"/>
<circle cx="651.51" cy="641.60" r="4.8" fill="url(#grl)"/>
<circle cx="655.50" cy="639.47" r="4.8" fill="url(#grl)"/>
<circle cx="660.82" cy="636.28" r="4.8" fill="url(#grl)"/>
<circle cx="664.81" cy="637.61" r="4.8" fill="url(#grl)"/>
<circle cx="670.13" cy="641.07" r="4.8" fill="url(#grl)"/>
<circle cx="674.12" cy="636.81" r="4.8" fill="url(#grl)"/>
<circle cx="678.11" cy="640.27" r="4.8" fill="url(#grl)"/>
<circle cx="682.10" cy="640.27" r="4.8" fill="url(#grl)"/>
<circle cx="686.09" cy="638.94" r="4.8" fill="url(#grl)"/>
<circle cx="690.08" cy="636.28" r="4.8" fill="url(#grl)"/>
<circle cx="694.07" cy="633.62" r="4.8" fill="url(#grl)"/>
<circle cx="698.06" cy="634.95" r="4.8" fill="url(#grl)"/>
<circle cx="702.05" cy="635.75" r="4.8" fill="url(#grl)"/>
<circle cx="706.04" cy="635.75" r="4.8" fill="url(#grl)"/>
<circle cx="708.70" cy="640.27" r="4.8" fill="url(#grl)"/>
<circle cx="712.16" cy="645.59" r="4.8" fill="url(#grl)"/>
<circle cx="715.35" cy="652.24" r="4.8" fill="url(#grl)"/>
<circle cx="718.01" cy="656.23" r="4.8" fill="url(#grl)"/>
<circle cx="722.00" cy="655.44" r="4.8" fill="url(#grl)"/>
<circle cx="725.99" cy="652.24" r="4.8" fill="url(#grl)"/>
<circle cx="729.99" cy="648.25" r="4.8" fill="url(#grl)"/>
<circle cx="733.98" cy="642.93" r="4.8" fill="url(#grl)"/>
<circle cx="737.97" cy="640.27" r="4.8" fill="url(#grl)"/>
<circle cx="741.96" cy="641.07" r="4.8" fill="url(#grl)"/>
<circle cx="744.62" cy="646.39" r="4.8" fill="url(#grl)"/>
<circle cx="748.61" cy="653.57" r="4.8" fill="url(#grl)"/>
<circle cx="752.60" cy="649.05" r="4.8" fill="url(#grl)"/>
<circle cx="756.59" cy="654.90" r="4.8" fill="url(#grl)"/>
<circle cx="760.58" cy="656.23" r="4.8" fill="url(#grl)"/>
<circle cx="764.57" cy="664.22" r="4.8" fill="url(#grl)"/>
<circle cx="768.56" cy="662.89" r="4.8" fill="url(#grl)"/>
<circle cx="772.55" cy="665.01" r="4.8" fill="url(#grl)"/>
<circle cx="776.54" cy="668.21" r="4.8" fill="url(#grl)"/>
<circle cx="781.33" cy="672.20" r="4.8" fill="url(#grl)"/>
<polyline points="601.49,711.30 604.95,766.10 609.47,753.87 613.73,768.76 617.46,758.66 621.71,744.82 624.90,736.04 628.89,729.92 632.89,721.41 636.88,715.56 640.87,709.44 644.86,702.79 648.85,696.14 652.84,692.15 656.83,692.15 660.82,686.83 664.81,693.48 668.80,688.16 672.79,688.16 676.78,690.82 680.77,691.62 684.76,688.16 688.75,685.50 692.74,684.70 696.73,684.70 700.72,683.64 704.71,683.64 708.70,686.30 712.69,688.16 715.89,702.79 720.67,708.64 723.33,697.47 727.33,693.48 730.78,687.36 733.98,688.16 737.17,680.18 741.96,684.70 745.95,686.30 749.94,694.81 752.60,692.15 757.39,693.48 760.58,700.13 764.57,707.58 768.56,712.10 772.55,717.42 776.54,723.54 781.86,724.07" fill="none" stroke="#4a82d0" stroke-width="1.1" stroke-linejoin="round" />
<circle cx="601.49" cy="711.30" r="4.8" fill="url(#gbl)"/>
<circle cx="604.95" cy="766.10" r="4.8" fill="url(#gbl)"/>
<circle cx="609.47" cy="753.87" r="4.8" fill="url(#gbl)"/>
<circle cx="613.73" cy="768.76" r="4.8" fill="url(#gbl)"/>
<circle cx="617.46" cy="758.66" r="4.8" fill="url(#gbl)"/>
<circle cx="621.71" cy="744.82" r="4.8" fill="url(#gbl)"/>
<circle cx="624.90" cy="736.04" r="4.8" fill="url(#gbl)"/>
<circle cx="628.89" cy="729.92" r="4.8" fill="url(#gbl)"/>
<circle cx="632.89" cy="721.41" r="4.8" fill="url(#gbl)"/>
<circle cx="636.88" cy="715.56" r="4.8" fill="url(#gbl)"/>
<circle cx="640.87" cy="709.44" r="4.8" fill="url(#gbl)"/>
<circle cx="644.86" cy="702.79" r="4.8" fill="url(#gbl)"/>
<circle cx="648.85" cy="696.14" r="4.8" fill="url(#gbl)"/>
<circle cx="652.84" cy="692.15" r="4.8" fill="url(#gbl)"/>
<circle cx="656.83" cy="692.15" r="4.8" fill="url(#gbl)"/>
<circle cx="660.82" cy="686.83" r="4.8" fill="url(#gbl)"/>
<circle cx="664.81" cy="693.48" r="4.8" fill="url(#gbl)"/>
<circle cx="668.80" cy="688.16" r="4.8" fill="url(#gbl)"/>
<circle cx="672.79" cy="688.16" r="4.8" fill="url(#gbl)"/>
<circle cx="676.78" cy="690.82" r="4.8" fill="url(#gbl)"/>
<circle cx="680.77" cy="691.62" r="4.8" fill="url(#gbl)"/>
<circle cx="684.76" cy="688.16" r="4.8" fill="url(#gbl)"/>
<circle cx="688.75" cy="685.50" r="4.8" fill="url(#gbl)"/>
<circle cx="692.74" cy="684.70" r="4.8" fill="url(#gbl)"/>
<circle cx="696.73" cy="684.70" r="4.8" fill="url(#gbl)"/>
<circle cx="700.72" cy="683.64" r="4.8" fill="url(#gbl)"/>
<circle cx="704.71" cy="683.64" r="4.8" fill="url(#gbl)"/>
<circle cx="708.70" cy="686.30" r="4.8" fill="url(#gbl)"/>
<circle cx="712.69" cy="688.16" r="4.8" fill="url(#gbl)"/>
<circle cx="715.89" cy="702.79" r="4.8" fill="url(#gbl)"/>
<circle cx="720.67" cy="708.64" r="4.8" fill="url(#gbl)"/>
<circle cx="723.33" cy="697.47" r="4.8" fill="url(#gbl)"/>
<circle cx="727.33" cy="693.48" r="4.8" fill="url(#gbl)"/>
<circle cx="730.78" cy="687.36" r="4.8" fill="url(#gbl)"/>
<circle cx="733.98" cy="688.16" r="4.8" fill="url(#gbl)"/>
<circle cx="737.17" cy="680.18" r="4.8" fill="url(#gbl)"/>
<circle cx="741.96" cy="684.70" r="4.8" fill="url(#gbl)"/>
<circle cx="745.95" cy="686.30" r="4.8" fill="url(#gbl)"/>
<circle cx="749.94" cy="694.81" r="4.8" fill="url(#gbl)"/>
<circle cx="752.60" cy="692.15" r="4.8" fill="url(#gbl)"/>
<circle cx="757.39" cy="693.48" r="4.8" fill="url(#gbl)"/>
<circle cx="760.58" cy="700.13" r="4.8" fill="url(#gbl)"/>
<circle cx="764.57" cy="707.58" r="4.8" fill="url(#gbl)"/>
<circle cx="768.56" cy="712.10" r="4.8" fill="url(#gbl)"/>
<circle cx="772.55" cy="717.42" r="4.8" fill="url(#gbl)"/>
<circle cx="776.54" cy="723.54" r="4.8" fill="url(#gbl)"/>
<circle cx="781.86" cy="724.07" r="4.8" fill="url(#gbl)"/>
<line x1="706.50" y1="754.70" x2="739.00" y2="754.70" stroke="#5a8ad8" stroke-width="1.3" />
<circle cx="722.80" cy="754.70" r="5.0" fill="url(#gbl)"/>
<text x="743.20" y="759.40" font-size="13.5" text-anchor="start" font-weight="bold" fill="#111" stroke="#111" stroke-width="0.3">W-0</text>
<line x1="706.50" y1="773.30" x2="739.00" y2="773.30" stroke="#e07070" stroke-width="1.3" />
<circle cx="722.80" cy="773.30" r="5.0" fill="url(#grl)"/>
<text x="743.20" y="778.00" font-size="13.5" text-anchor="start" font-weight="bold" fill="#111" stroke="#111" stroke-width="0.3">W-0.5</text>
</svg></body></html>
